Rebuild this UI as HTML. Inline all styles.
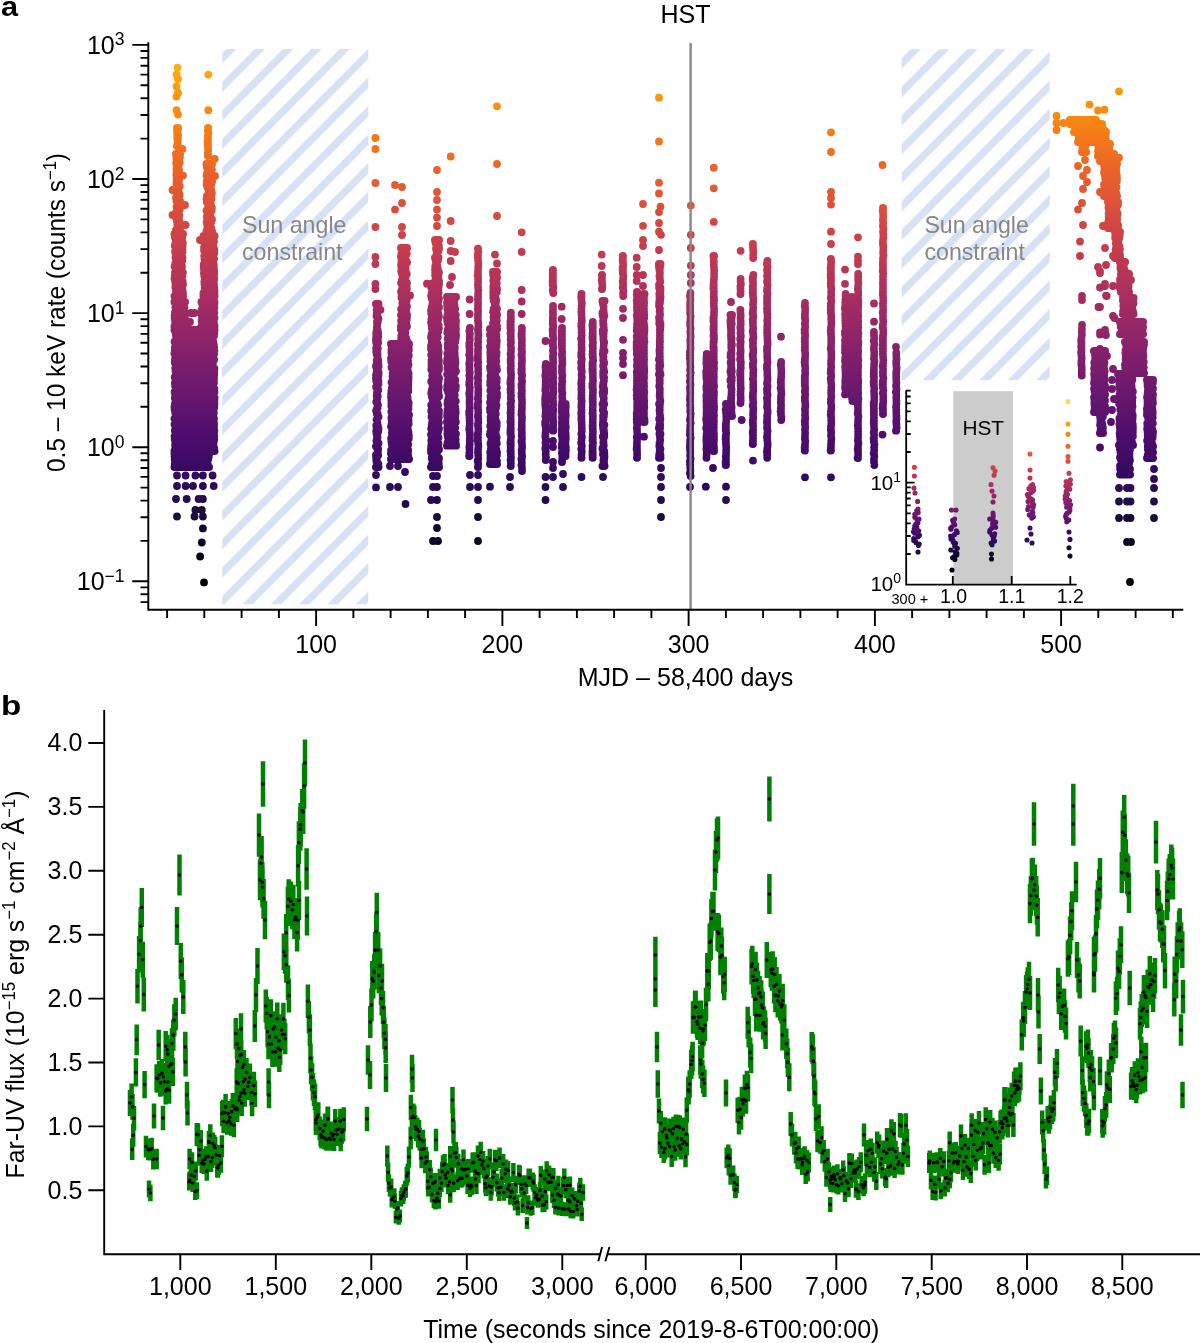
<!DOCTYPE html><html><head><meta charset="utf-8"><style>html,body{margin:0;padding:0;background:#fff;}svg{display:block;will-change:transform;}text{font-family:"Liberation Sans",sans-serif;}</style></head><body><svg width="1200" height="1343" viewBox="0 0 1200 1343"><defs><linearGradient id="g" gradientUnits="userSpaceOnUse" x1="0" y1="581.3" x2="0" y2="-49"><stop offset="0" stop-color="#000004"/><stop offset="0.0417" stop-color="#050417"/><stop offset="0.0833" stop-color="#110a30"/><stop offset="0.125" stop-color="#210c4a"/><stop offset="0.1667" stop-color="#320a5e"/><stop offset="0.2083" stop-color="#450a69"/><stop offset="0.25" stop-color="#57106e"/><stop offset="0.2917" stop-color="#67166e"/><stop offset="0.3333" stop-color="#781c6d"/><stop offset="0.375" stop-color="#8a226a"/><stop offset="0.4167" stop-color="#9a2865"/><stop offset="0.4583" stop-color="#ab2f5e"/><stop offset="0.5" stop-color="#bc3754"/><stop offset="0.5417" stop-color="#ca404a"/><stop offset="0.5833" stop-color="#d84c3e"/><stop offset="0.625" stop-color="#e45a31"/><stop offset="0.6667" stop-color="#ed6925"/><stop offset="0.7083" stop-color="#f57b17"/><stop offset="0.75" stop-color="#f98e09"/><stop offset="0.7917" stop-color="#fca108"/><stop offset="0.8333" stop-color="#fbb61a"/><stop offset="0.875" stop-color="#f9cb35"/><stop offset="0.9167" stop-color="#f4df53"/><stop offset="0.9583" stop-color="#f2f27d"/><stop offset="1" stop-color="#fcffa4"/></linearGradient><linearGradient id="gi" gradientUnits="userSpaceOnUse" x1="0" y1="569.4" x2="0" y2="385.8"><stop offset="0" stop-color="#000004"/><stop offset="0.0417" stop-color="#050417"/><stop offset="0.0833" stop-color="#110a30"/><stop offset="0.125" stop-color="#210c4a"/><stop offset="0.1667" stop-color="#320a5e"/><stop offset="0.2083" stop-color="#450a69"/><stop offset="0.25" stop-color="#57106e"/><stop offset="0.2917" stop-color="#67166e"/><stop offset="0.3333" stop-color="#781c6d"/><stop offset="0.375" stop-color="#8a226a"/><stop offset="0.4167" stop-color="#9a2865"/><stop offset="0.4583" stop-color="#ab2f5e"/><stop offset="0.5" stop-color="#bc3754"/><stop offset="0.5417" stop-color="#ca404a"/><stop offset="0.5833" stop-color="#d84c3e"/><stop offset="0.625" stop-color="#e45a31"/><stop offset="0.6667" stop-color="#ed6925"/><stop offset="0.7083" stop-color="#f57b17"/><stop offset="0.75" stop-color="#f98e09"/><stop offset="0.7917" stop-color="#fca108"/><stop offset="0.8333" stop-color="#fbb61a"/><stop offset="0.875" stop-color="#f9cb35"/><stop offset="0.9167" stop-color="#f4df53"/><stop offset="0.9583" stop-color="#f2f27d"/><stop offset="1" stop-color="#fcffa4"/></linearGradient><pattern id="h1" patternUnits="userSpaceOnUse" x="0" y="0" width="28.33" height="28.33" patternTransform="scale(1 1.00867)"><path d="M30.1 -33.3L-36.6 33.3M58.4 -33.3L-8.2 33.3M86.8 -33.3L20.1 33.3M115.1 -33.3L48.4 33.3" stroke="#d8e0f3" stroke-width="7.28"/></pattern><pattern id="h2" patternUnits="userSpaceOnUse" x="0" y="0" width="28.33" height="28.33" patternTransform="scale(1 1.00867)"><path d="M6.4 -33.3L-60.3 33.3M34.7 -33.3L-31.9 33.3M63.1 -33.3L-3.6 33.3M91.4 -33.3L24.7 33.3" stroke="#d8e0f3" stroke-width="7.28"/></pattern></defs><rect x="222.3" y="49" width="146" height="555.3" fill="url(#h1)"/><rect x="901.7" y="49.2" width="148" height="331" fill="url(#h2)"/><g fill="#878787" font-size="23.2"><text x="242" y="232.7">Sun angle</text><text x="242" y="260">constraint</text><text x="924.4" y="232.7">Sun angle</text><text x="924.4" y="260.3">constraint</text></g><path d="M176.9 127.9H178.1M177.1 130.5H177.8M177.1 133.1H177.5M177.2 135.7H178.1M177.3 138.3H177.9M177.8 140.9h0M177.5 143.5H177.6M176.9 146.1H178.1M175.9 153.9H180.1M176.2 156.8H180M176.5 159.8H179.4M176.2 162.7H179.7M176.6 165.6H178.2M176.5 168.6H178.8M176.6 171.5H179.3M176.3 174.4H180M176.6 177.3H179.8M176.4 180.3H179M176.5 183.2H178.8M176.8 186.1H179.8M176.4 189.1H178.5M176 192H178.7M178.1 194.9H179.7M176 197.9H179.2M176.4 200.8H180M177.5 203.7H179.2M176.6 206.7H179.1M177.5 209.6H179.7M176 212.5H178.7M176.6 215.4H179.4M176.4 218.4H178.7M177 221.3H179.5M177.3 224.2H177.9M177.5 227.2H179.8M175.9 230.1H180.1M174.4 233.9H183.1M174.8 236.9H182.3M175.6 239.8H182M175.6 242.8H182.9M174.7 245.7H182.6M176.2 248.7H182.4M175 251.7H182.5M176.1 254.6H181.7M175.5 257.6H182.5M176.6 260.6H182.4M175.3 263.5H181.1M174.6 266.5H182M175.8 269.4H181.3M175 272.4H182.9M174.8 275.4H182.4M174.5 278.3H181.8M175.1 281.3H182.6M175.5 284.3H183.1M175.4 287.2H182.1M176 290.2H182.6M175.9 293.1H183M174.4 296.1H183.1M174.4 301.9H185.1M175.8 304.6H183.7M175.3 307.3H184.4M175.6 310H184.2M174.8 312.7H184.9M174.6 315.3H184.5M174.6 318H184.8M175 320.7H185.1M175.2 323.4H184.5M174.4 326.1H185.1M207.9 127.9H208.1M207.9 130.7H208M208.4 133.5h0M207.7 136.4H208M207.8 139.2H208M207.6 142H208M207.7 144.8H208M208 147.6h0M208.2 150.5h0M207.7 153.3H208M207.9 156.1H208.1M206.4 163.9H212.1M206.7 166.8H210.1M208.5 169.7H211.9M207.1 172.7H210.2M206.5 175.6H211.3M207.4 178.5H212M206.7 181.4H212.1M206.6 184.4H211.3M207.4 187.3H209.5M208.8 190.2H211.3M209.1 193.1H211.9M206.9 196H211.5M206.5 199H211.4M206.8 201.9H210.6M208.1 204.8H210.9M208 207.7H211.9M206.5 210.6H211.7M207.7 213.6H210.1M206.8 216.5H210.3M207.1 219.4H212M206.6 222.3H211.1M207.3 225.3H209.3M207.3 228.2H211.4M206.4 231.1H212.1M203.4 235.9H214.6M204.8 238.8H212.7M203.6 241.6H214M204.8 244.5H211.9M204 247.4H213.7M204 250.2H214.4M206.3 253.1H214.3M204.2 256H213.5M204.5 258.8H214.1M204.8 261.7H213.1M203.6 264.6H213.8M203.6 267.4H213.8M204.1 270.3H214.2M203.9 273.2H214.3M204.3 276H214M204.8 278.9H214.2M204.3 281.8H213.9M204.5 284.6H214M204.7 287.5H214.3M204.6 290.4H214.5M203.4 293.2H214.5M203.4 296.1H214.6M201.4 301.9H214.6M202.3 304.6H214.3M202.8 307.3H214.4M201.5 310H214.1M202.2 312.7H214.3M201.7 315.3H212.7M202.8 318H214.5M201.6 320.7H212.2M202.8 323.4H214.1M201.4 326.1H214.6M174.4 329.9H214.6M175.6 332.9H214.3M176 335.8H214M176.3 338.8H212.8M174.5 341.7H213.2M176.4 344.7H213.9M174.8 347.6H214.2M174.8 350.6H214.4M174.4 353.5H214.2M175.3 356.5H212.9M174.9 359.5H214.2M174.7 362.4H213M175.8 365.4H212.8M175.2 368.3H214.4M175.5 371.3H214.3M177.7 374.2H214.3M174.7 377.2H214M175.6 380.2H214M174.8 383.1H214M175.1 386.1H213M175.8 389H214.4M174.6 392H214.5M175.2 394.9H213.3M174.8 397.9H214.6M176.3 400.8H214.4M174.9 403.8H214.5M174.4 406.8H214.3M174.6 409.7H213.7M175.2 412.7H213.8M176.1 415.6H213.5M174.4 418.6H214M175.6 421.5H213.9M174.5 424.5H214.1M176 427.5H214M174.8 430.4H214.4M175.8 433.4H214M174.5 436.3H214.2M174.7 439.3H214.3M175.2 442.2H213.7M175.1 445.2H213.4M175.2 448.1H214.2M174.4 451.1H214.6M174.4 453.9H209.1M174.6 456.5H208.8M174.7 459.2H208.2M175 461.8H207.4M174.7 464.5H207.8M174.4 467.1H209.1M375.9 303.9H378.6M377.7 306.9H378.4M376.6 309.8H378.4M376.9 312.8H377.2M376.4 315.8H377.5M378 318.7H378.5M376.9 321.7H377.8M377.1 324.7H377.2M376.8 327.6H377.1M376.6 330.6H377.8M376.1 333.6H378.3M376.2 336.5H378.3M375.9 339.5H377.8M376.1 342.5H378.2M377.4 345.4h0M376.1 348.4H377.8M376.2 351.4H377.4M376.6 354.3H377.6M377.6 357.3h0M376.7 360.3H378.4M376.8 363.2H378.4M375.9 366.2H378.6M376.8 369.2H377.8M376.6 372.1H378.6M376 375.1H378.6M375.9 378.1H378.1M376.2 381H378.4M376.8 384H378.5M376.1 387H377.1M377.7 390H378.3M376.9 392.9H377.1M376.7 395.9H377.8M377 398.9H377.2M376.2 401.8H377M377.9 404.8H378M377.1 407.8H377.6M376.1 410.7H376.6M376.8 413.7H377.6M378 416.7H378.5M376.6 419.6H376.7M377.4 422.6h0M376.2 425.6H377.9M376.5 428.5H378.5M376.2 431.5H378.2M376.6 434.5H377.4M377 437.4H377.5M376.4 440.4H377.4M377.9 443.4H378.6M375.9 446.3H377.3M377.5 449.3H378.2M377.5 452.3H377.9M375.9 455.2H378.2M376.1 458.2H376.8M376.4 461.2H376.9M377.2 464.1H378.4M375.9 467.1H378.6M400.9 247.9H407.1M402.1 250.8H406M401.4 253.7H406.8M400.9 256.6H405.3M401.4 259.6H405.8M401.3 262.5H407.1M401.1 265.4H405.5M401.5 268.3H405.6M401.2 271.2H405.8M402.1 274.1H406.8M402.6 277H405.5M401.9 279.9H404.2M401.1 282.9H407M402.9 285.8H406.6M402.1 288.7H406.9M401 291.6H406.4M401.6 294.5H406.8M401.4 297.4H406.8M403.6 300.3H406.7M402.3 303.2H405.6M403.2 306.2H407M401.1 309.1H406.3M401.9 312H406.3M401 314.9H407.1M402.1 317.8H407M401.1 320.7H406.5M401.4 323.6H406.3M400.9 326.5H407M400.9 329.5H405M402.7 332.4H405.4M401.4 335.3H404.8M401.2 338.2H406.1M400.9 341.1H407.1M390.9 343.9H409.1M391.7 346.9H408.7M391.4 349.8H408.9M391.4 352.8H408.3M391.7 355.7H408.8M391 358.7H407.8M391.3 361.6H408.1M393.1 364.6H408.5M391.5 367.5H407.7M393.1 370.5H407.7M392.6 373.4H408.6M392.6 376.4H408.6M392.7 379.3H408.5M391.5 382.3H408.4M393.3 385.3H408.3M391.8 388.2H408.2M391.4 391.2H408.3M391.1 394.1H406.1M391 397.1H407.5M391.3 400H407.8M391.4 403H408.7M391.3 405.9H408.5M392 408.9H408.4M391.3 411.8H406.7M392.1 414.8H409.1M391.4 417.7H408.5M391.7 420.7H408.6M391.6 423.7H408.7M391 426.6H407.7M392.3 429.6H407.9M391.9 432.5H408.5M392 435.5H408.9M391.1 438.4H408.8M391.4 441.4H406.3M391.8 444.3H408.2M392.4 447.3H407.5M391.1 450.2H408.2M390.9 453.2H408M393.5 456.1H408.2M390.9 459.1H409.1M434.9 239.9H439.1M435.5 242.8H436.8M436.3 245.8H438.9M436 248.7H439.1M436.7 251.7H438.2M436.7 254.6H436.8M434.9 257.6H438.6M435.7 260.5H438M436 263.4H436.7M435.2 266.4H437.5M435 269.3H437.9M435.2 272.3H439M435.1 275.2H438.3M436.3 278.2H438.3M434.9 281.1H439.1M430.9 283.9H439.1M431.1 286.9H438.6M432.1 289.8H438.5M431.8 292.8H438.6M431.1 295.7H437.6M431.8 298.7H439M433.6 301.6H438.4M432.3 304.6H437.3M431.7 307.5H439M431 310.5H436.3M431.2 313.4H438.2M432.2 316.4H438.9M431.4 319.4H438.1M431 322.3H437.5M431.6 325.3H438.7M431.9 328.2H438.9M432.4 331.2H438.3M431.5 334.1H437.2M431 337.1H437.8M431.7 340H436.3M431.7 343H437.2M431 346H438.3M431 348.9H438.2M432.1 351.9H438.7M431.2 354.8H438.4M432.3 357.8H438.3M431.5 360.7H438.9M431.5 363.7H438.6M431.5 366.6H439M431.3 369.6H439M432.7 372.5H437.6M432.2 375.5H437.9M433.4 378.5H439.1M431.2 381.4H438.5M432.6 384.4H438.4M432.5 387.3H438.8M431.7 390.3H438.4M431.2 393.2H438.5M431.8 396.2H439.1M432.5 399.1H436.9M432.9 402.1H437.1M431.2 405H438.1M431.8 408H437.3M431.2 411H439M431.9 413.9H438.9M431.5 416.9H438.8M432.4 419.8H437.3M432 422.8H438.9M431.6 425.7H437.4M431.2 428.7H439M433.2 431.6H438.2M431 434.6H437.3M431.7 437.6H438.5M431.3 440.5H436.4M431.5 443.5H438.5M431.1 446.4H438.2M430.9 449.4H439M431 452.3H436.7M432.7 455.3H437.1M431.7 458.2H439M433.6 461.2H438.7M431.9 464.1H438.8M430.9 467.1H439.1M446.9 296.9H456.1M447.7 299.9H454.3M447 302.9H454.1M447.1 305.8H454.6M447.4 308.8H455.2M448.1 311.8H454.6M447.5 314.8H455.8M446.9 317.7H455.3M447.2 320.7H456M447.8 323.7H455.8M449.2 326.7H455.8M447.8 329.6H456M447.3 332.6H455.9M448.6 335.6H456.1M447.7 338.6H455.8M448.2 341.5H455.3M447.7 344.5H454.5M447.8 347.5H454.8M448.4 350.5H454.6M447.3 353.4H454.7M448.2 356.4H454.8M447.2 359.4H455.3M446.9 362.4H455.5M448 365.3H455.1M447.4 368.3H455.1M448.2 371.3H456M447.1 374.3H454.1M448.8 377.3H453.3M447.9 380.2H455.4M447.8 383.2H454.2M447.2 386.2H455.9M447.1 389.2H455.6M448 392.1H453.4M449.1 395.1H454.8M448.4 398.1H454.5M447.7 401.1H455.8M447.4 404H453.5M448.1 407H455.2M447.5 410H455.6M447.3 413H455.7M447.1 415.9H455.3M448.2 418.9H455.2M446.9 421.9H455.9M447.7 424.9H454.6M447.3 427.8H455.2M447.5 430.8H454.2M447.3 433.8H456M447.8 436.8H455.4M448.4 439.7H455.6M447.5 442.7H455.7M446.9 445.7H456.1M469.9 327.9h0M469.4 330.9H469.5M469.9 333.9h0M469.7 336.8h0M469.8 339.8h0M469.4 342.8H469.5M469.2 345.8H469.5M469.6 348.8h0M469.6 351.8h0M469.2 354.7H469.5M469.8 357.7h0M469.7 360.7h0M469.2 363.7H469.5M469.5 366.7h0M469.4 369.6H469.5M469.8 372.6h0M469.3 375.6H469.5M469.8 378.6h0M469.4 381.6H469.5M469.2 384.5H469.5M469.8 387.5h0M469.7 390.5h0M469.2 393.5H469.5M469.6 396.5h0M469.6 399.5h0M469.5 402.4h0M469.6 405.4h0M469.7 408.4h0M469.2 411.4H469.5M469.2 414.4H469.5M469.5 417.3h0M469.6 420.3h0M469.7 423.3h0M469.5 426.3h0M469.2 429.3H469.5M469.7 432.2h0M469.9 435.2h0M469.8 438.2h0M469.8 441.2h0M469.7 444.2h0M469.3 447.2H469.5M469.5 450.1h0M469.3 453.1H469.5M469.1 456.1H469.5M477.9 248.6H478.1M478.3 251.6h0M477.7 254.6H478M477.9 257.6H478M478.1 260.6h0M478.4 263.6h0M478.2 266.6h0M478.1 269.6h0M478 272.5h0M477.6 275.5H478M478.1 278.5h0M478.1 281.5h0M477.9 284.5H478M478.1 287.5h0M478.3 290.5h0M478.1 293.5h0M478 296.5H478.1M477.9 299.5H478M478.1 302.5h0M478 305.5h0M477.8 308.5H478M478.1 311.5h0M477.9 314.4H478M477.9 317.4h0M477.9 320.4H478M478.3 323.4h0M478.3 326.4h0M477.9 329.4H478M478.2 332.4h0M478.4 335.4h0M478.1 338.4h0M478.3 341.4h0M477.8 344.4H478M478.2 347.4h0M477.9 350.4H478M478 353.4h0M477.8 356.4H478M477.6 359.3H478M478.2 362.3h0M477.8 365.3H478M478.2 368.3h0M478.1 371.3h0M478.3 374.3h0M477.8 377.3H478M478.2 380.3h0M477.9 383.3H478M478.1 386.3h0M478.4 389.3h0M478.2 392.3h0M478.2 395.3h0M477.8 398.3H478M478.3 401.3h0M477.7 404.2H478M477.7 407.2H478M478.2 410.2h0M478.2 413.2h0M477.9 416.2H478M478.3 419.2h0M478.3 422.2h0M477.8 425.2H478M478.3 428.2h0M478.3 431.2h0M477.7 434.2H478M477.8 437.2H478M477.6 440.2H478M478.2 443.2h0M478.4 446.1h0M478.1 449.1h0M477.9 452.1H478M478.2 455.1h0M478.3 458.1h0M477.7 461.1H478M478.2 464.1h0M477.9 467.1H478.1M492.9 271.9H497.1M493.1 274.8H496.4M493.9 277.6H497.1M493.3 280.5H496.4M493.7 283.3H496.8M493.3 286.2H495.4M493.4 289H497.1M493.2 291.9H496.8M493.3 294.7H495.4M493.3 297.6H495.6M493.6 300.4H496.2M494.7 303.3H495.7M494.9 306.1H495.9M493.6 309H497M493.1 311.8H494.7M494 314.7H497.1M493.5 317.5H496.6M494.2 320.4H496.8M493 323.2H495.3M492.9 326.1H497.1M489.9 328.9H497.1M490.8 331.8H495.7M489.9 334.8H496.4M491.7 337.7H496.4M490.4 340.7H496.8M492.1 343.6H496.6M490 346.5H496.4M490.4 349.5H495.5M490.3 352.4H496.6M490.4 355.4H496.4M490.5 358.3H495.9M490.4 361.2H496.3M491 364.2H494.3M490 367.1H496.6M490.4 370H497M492.3 373H495M490.4 375.9H495.4M490.6 378.9H496.8M490.2 381.8H496.7M490.2 384.7H496M491 387.7H496.9M490.3 390.6H495.5M491.5 393.6H497.1M490.5 396.5H497M490.8 399.4H496.4M490 402.4H494.7M491.2 405.3H496.5M489.9 408.3H495.9M490.1 411.2H495.4M491.3 414.1H495.8M490.6 417.1H495.1M490.6 420H495.7M490.8 423H496.8M490.2 425.9H496.7M491.6 428.8H496.2M490.3 431.8H495.6M489.9 434.7H495.9M491.4 437.6H496.7M491.3 440.6H496.2M490.5 443.5H496.8M491 446.5H495.5M490.9 449.4H496.3M490.2 452.3H497.1M490.5 455.3H496.9M490.4 458.2H494.5M490.4 461.2H497M489.9 464.1H497.1M510.9 312.6h0M510.7 315.6H510.8M510.9 318.6h0M510.4 321.5H510.8M510.4 324.5H510.8M510.4 327.4H510.8M510.9 330.4h0M510.5 333.3H510.8M510.8 336.3h0M510.7 339.2H510.8M511 342.2h0M510.7 345.1h0M511.1 348.1h0M511 351h0M510.6 354H510.8M511 356.9h0M510.6 359.9H510.8M510.7 362.8H510.8M510.9 365.8h0M510.6 368.7H510.8M510.9 371.7h0M511.1 374.6h0M511 377.6h0M510.5 380.5H510.8M510.4 383.5H510.8M510.9 386.4h0M510.5 389.4H510.8M510.6 392.3H510.8M511 395.3h0M510.8 398.2h0M511.1 401.2h0M510.5 404.1H510.8M510.9 407.1h0M510.8 410h0M510.5 413H510.8M510.7 415.9h0M510.7 418.9h0M510.4 421.8H510.8M510.8 424.8h0M510.6 427.7H510.8M510.4 430.7H510.8M510.4 433.6H510.8M511.1 436.6h0M510.8 439.5h0M510.4 442.5H510.8M510.6 445.4H510.8M510.7 448.4h0M510.5 451.3H510.8M510.8 454.3h0M511 457.2h0M510.6 460.2H510.8M510.9 463.1h0M510.6 466.1H510.8M521.9 327.9h0M521.9 330.9h0M521.4 333.9H521.8M521.5 336.8H521.8M521.9 339.8h0M521.8 342.8h0M521.9 345.8h0M521.5 348.8H521.8M522 351.8h0M521.4 354.8H521.8M521.9 357.7h0M522 360.7h0M521.6 363.7H521.8M521.7 366.7H521.8M521.4 369.7H521.8M521.4 372.6H521.8M522.1 375.6h0M521.7 378.6H521.8M522.1 381.6h0M521.4 384.6H521.8M521.5 387.6H521.8M521.9 390.6h0M521.4 393.5H521.8M521.4 396.5H521.8M521.9 399.5h0M522 402.5h0M521.9 405.5h0M521.9 408.4h0M521.6 411.4H521.8M521.4 414.4H521.8M522 417.4h0M521.9 420.4h0M521.7 423.4h0M521.8 426.4h0M521.5 429.3H521.8M521.9 432.3h0M521.7 435.3H521.8M522 438.3h0M521.4 441.3H521.8M522 444.2h0M522.1 447.2h0M521.6 450.2H521.8M521.7 453.2H521.8M522.1 456.2h0M521.4 459.2H521.8M521.8 462.1h0M521.4 465.1H521.8M522 468.1h0M522 471.1h0M545.8 363.9h0M545.5 366.8h0M545.7 369.7h0M545.6 372.6h0M545.3 375.6H545.5M545.7 378.5h0M545.7 381.4h0M545.6 384.3h0M545.5 387.2h0M545.3 390.1H545.5M545.7 393.1h0M545.4 396H545.5M545.1 398.9H545.5M545.2 401.8H545.5M545.2 404.7H545.5M545.5 407.6h0M545.9 410.5h0M545.6 413.5h0M545.4 416.4H545.5M545.8 419.3h0M545.1 422.2H545.5M545.2 425.1H545.5M545.8 428h0M545.8 430.9h0M545.4 433.9H545.5M545.3 436.8H545.5M545.9 439.7h0M545.5 442.6h0M545.9 445.5h0M545.3 448.4H545.5M545.8 451.4h0M545.7 454.3h0M545.9 457.2h0M545.7 460.1h0M552.8 269.9H553M552.7 272.8H553M552.7 275.7H553M552.8 278.6H553M552.6 281.5H553M552.6 284.4H553M553.3 287.3h0M552.7 290.2H553M553.3 293.1h0M553 305.9h0M553 308.9h0M552.8 311.8H553M553 314.8h0M552.8 317.8H553M552.8 320.8H553M552.7 323.7H553M553.3 326.7h0M552.6 329.7H553M552.8 332.6H553M552.8 335.6H553M553.4 338.6h0M552.7 341.6H553M552.6 344.5H553M553.4 347.5h0M552.9 350.5H553M553.3 353.4h0M552.9 356.4H553M553.1 359.4h0M553.2 362.4h0M552.7 365.3H553M553 368.3h0M553.1 371.3h0M553.1 374.2h0M553.2 377.2h0M552.6 380.2H553M553.3 383.2h0M552.6 386.1H553M553.3 389.1h0M553.3 392.1h0M552.9 395H553M553 398h0M552.7 401H553M553.3 404h0M552.9 406.9H553M553.3 409.9h0M553 412.9h0M552.6 415.8H553M552.7 418.8H553M553.3 421.8h0M553.2 424.8h0M553.1 427.7h0M553.2 430.7h0M561.9 327.9H562.1M561.7 330.9H562M561.8 333.9H562M561.7 336.8H562M561.7 339.8H562M561.7 342.8H562M561.9 345.8H562M562 348.8h0M562.2 351.8h0M561.9 354.7H562M562.2 357.7h0M562.3 360.7h0M562.4 363.7h0M561.9 366.7H562M562 369.7h0M562 372.6h0M562.4 375.6h0M562.1 378.6h0M562.3 381.6h0M561.8 384.6H562M562 387.5h0M561.8 390.5H562M562.4 393.5h0M562.1 396.5h0M562.4 399.5h0M562 402.5h0M561.7 405.4H562M561.9 408.4H562M561.7 411.4H562M562.1 414.4h0M561.8 417.4H562M562 420.3h0M561.8 423.3H562M562 426.3h0M561.6 429.3H562M561.8 432.3H562M561.8 435.3H562M562.2 438.2h0M562.3 441.2h0M561.9 444.2H562M561.7 447.2H562M562.2 450.2h0M561.9 453.2H562M562.3 456.1h0M562.2 459.1h0M561.9 462.1H562.1M565.7 403.9h0M565.8 406.8h0M565.6 409.7h0M565.6 412.6h0M565.8 415.5h0M565.5 418.4h0M565.3 421.3H565.5M565.4 424.2H565.5M565.8 427.1h0M565.2 430H565.5M565.6 432.9h0M565.8 435.8h0M565.8 438.7h0M565.4 441.6H565.5M565.1 444.5H565.5M565.8 447.4h0M565.9 450.3h0M565.6 453.2h0M565.6 456.1h0M581.4 293.9H581.6M581.2 296.9H581.5M581.5 299.9h0M581.9 302.8h0M581.6 305.8h0M581.5 308.8h0M581.4 311.8H581.5M581.5 314.8h0M581.7 317.7h0M581.8 320.7h0M581.3 323.7H581.5M581.3 326.7H581.5M581.6 329.7h0M581.6 332.6h0M581.7 335.6h0M581.1 338.6H581.5M581.6 341.6h0M581.5 344.6h0M581.6 347.5h0M581.6 350.5h0M581.2 353.5H581.5M581.2 356.5H581.5M581.8 359.5h0M581.1 362.4H581.5M581.4 365.4H581.5M581.2 368.4H581.5M581.8 371.4h0M581.5 374.4h0M581.8 377.3h0M581.5 380.3h0M581.1 383.3H581.5M581.4 386.3H581.5M581.3 389.3H581.5M581.5 392.2h0M581.4 395.2H581.5M581.3 398.2H581.5M581.7 401.2h0M581.4 404.2H581.5M581.3 407.1H581.5M581.5 410.1h0M581.2 413.1H581.5M581.4 416.1H581.5M581.3 419.1H581.5M581.6 422h0M581.7 425h0M581.8 428h0M581.8 431h0M581.4 434H581.5M581.9 436.9h0M581.5 439.9h0M581.2 442.9H581.5M581.8 445.9h0M581.3 448.9H581.5M581.8 451.8h0M581.5 454.8h0M581.4 457.8H581.6M592.8 321.9h0M592.4 324.9H592.8M592.6 327.8H592.8M592.8 330.8h0M592.6 333.7H592.8M592.5 336.7H592.8M592.6 339.6H592.8M593 342.6h0M592.5 345.5H592.8M592.9 348.5h0M592.7 351.4H592.8M592.5 354.4H592.8M592.9 357.4h0M593.1 360.3h0M592.4 363.3H592.8M592.5 366.2H592.8M592.4 369.2H592.8M592.5 372.1H592.8M592.9 375.1h0M592.9 378h0M593 381h0M592.4 383.9H592.8M592.4 386.9H592.8M593 389.9h0M592.9 392.8h0M592.7 395.8H592.8M592.6 398.7H592.8M592.7 401.7H592.8M592.9 404.6h0M592.7 407.6h0M592.7 410.5H592.8M592.5 413.5H592.8M592.9 416.4h0M592.8 419.4h0M592.8 422.3h0M592.6 425.3H592.8M592.6 428.3H592.8M592.9 431.2h0M592.8 434.2h0M592.6 437.1H592.8M592.5 440.1H592.8M593 443h0M592.5 446H592.8M592.7 448.9h0M592.4 451.9H592.8M592.5 454.8H592.8M592.5 457.8H592.8M601.9 274.9H602.1M602 277.7h0M601.7 280.6H602M602.2 283.4h0M602.4 286.3h0M601.9 289.1H602.1M602.4 300.9H604.6M602.9 303.8H603.3M603.6 306.8h0M603.6 309.8h0M602.4 312.7H603.8M602.6 315.6H604.4M603.3 318.6H603.5M603 321.5H603.2M603.2 324.5H603.5M603.7 327.4h0M602.7 330.4H604M602.8 333.3H603.7M603.3 336.3H603.6M603.3 339.2H603.5M603.8 342.2H604.2M603.7 345.1h0M603.5 348.1h0M603 351.1H604.6M602.8 354H603.2M603.2 356.9H603.5M603.2 359.9H603.5M603.5 362.8H604.3M603.1 365.8H603.5M603.7 368.8h0M603.2 371.7H604.2M603.1 374.6H603.5M603.3 377.6H604.1M603.9 380.6H604M603.2 383.5H603.5M602.7 386.4H603.5M603.3 389.4H604.2M602.6 392.4H604.2M602.9 395.3H603.5M603.8 398.2h0M603.6 401.2h0M602.5 404.1H604.2M603.1 407.1H603.3M602.8 410.1H603.2M603.6 413H604.2M603 416H603.9M603.1 418.9H603.5M603 421.9h0M602.8 424.8H604.4M603 427.8H603.7M603.4 430.7H604M603.8 433.6H604.3M602.8 436.6H604.3M603.5 439.6h0M603.3 442.5H603.5M603.5 445.5H603.8M602.4 448.4H603.3M603.1 451.4H604.3M602.9 454.3H604.4M603.9 457.2H604.5M603.4 460.2H604.1M603.5 463.1H604.1M602.4 466.1H604.6M622.7 255.9H623M622.7 258.8H623M622.7 261.6H623M623.2 264.5h0M622.6 267.4H623M622.6 270.3H623M622.8 273.1H623M623.3 276h0M623.1 278.9h0M622.7 281.7H623M623.2 284.6h0M622.7 287.5H623M623.4 290.4h0M623.1 293.2h0M623.2 296.1h0M636.9 291.9H637.1M636.8 294.9H637M637.1 297.8h0M636.7 300.8H637M637 303.8h0M636.9 306.7H637M637 309.7h0M637.4 312.6h0M636.7 315.6H637M637.2 318.6h0M637.3 321.5h0M637 324.5h0M636.9 327.4H637M636.7 330.4H637M637.3 333.4h0M636.7 336.3H637M637.1 339.3h0M636.6 342.3H637M636.6 345.2H637M636.6 348.2H637M636.8 351.1H637M636.8 354.1H637M637.4 357.1h0M637 360h0M637.2 363h0M636.9 366H637M637.3 368.9h0M636.8 371.9H637M637 374.9h0M637 377.8h0M636.9 380.8H637M637 383.7h0M636.8 386.7H637M636.6 389.7H637M637 392.6h0M636.7 395.6H637M636.8 398.6H637M637.3 401.5h0M637.1 404.5h0M637.1 407.4h0M637.2 410.4h0M636.7 413.4H637M636.8 416.3H637M636.7 419.3H637M636.8 422.2H637M637.1 425.2h0M636.8 428.2H637M637.1 431.1h0M637.3 434.1h0M636.8 437.1H637M637.1 440h0M636.9 443H637M636.9 445.9H637M636.6 448.9H637M637.1 451.9h0M637.1 454.8h0M636.9 457.8H637.1M643.4 293.9H644.6M643.6 296.9H644M643.9 299.9H644M643.9 302.8H644.2M643.7 305.8H644M644 308.8h0M644.1 311.8h0M644.2 314.8h0M644.2 317.8h0M643.6 320.7H643.7M644 323.7h0M644.4 326.7h0M643.5 329.7H644.5M644.2 332.7h0M643.8 335.6H644M643.4 338.6H644.1M644 341.6H644.5M644 344.6h0M643.9 347.6H644M643.8 350.5H644M643.7 353.5H644M643.8 356.5H644M644.1 359.5h0M644 362.5h0M643.7 365.5H644M643.4 368.4H644.2M644.3 371.4h0M643.9 374.4H644M644.1 377.4h0M643.5 380.4H643.8M643.8 383.3H644M644.1 386.3h0M643.8 389.3H644M644 392.3H644.3M643.8 395.3H644M643.8 398.2H644M644.3 401.2h0M644.1 404.2h0M644.3 407.2h0M643.9 410.2H644M643.7 413.2H644M643.8 416.1H644M643.9 419.1H644.5M643.4 422.1H644.6M658.9 263.9H660.6M658.9 266.9H660.1M659.4 269.9H659.8M659.9 272.8h0M659.4 275.8H659.8M659.9 278.8h0M660.2 281.8H660.3M659 284.8H659.4M659.1 287.8H660.5M659.9 290.7H660.5M659.3 293.7H660.2M659.5 296.7H660.6M659.5 299.7H660.3M659.1 302.7H660M659 305.7H659.3M659.7 308.6H659.9M659.6 311.6H659.8M660.1 314.6h0M659 317.6H659.7M659.3 320.6H659.8M659.2 323.6H660.5M660 326.5H660.5M659.9 329.5H660.2M659.9 332.5h0M659.9 335.5h0M659.9 338.5h0M659.7 341.5H660M659.7 344.4H659.8M659.7 347.4H659.9M659.4 350.4H659.8M659.6 353.4H659.8M659.7 356.4H659.9M658.9 359.4H659.9M660 362.3h0M659.2 365.3H660.4M659.2 368.3H659.7M659.6 371.3H659.8M658.9 374.3H660.6M659.8 377.3h0M659.5 380.2H659.8M659.7 383.2H659.8M659.2 386.2H659.5M659.9 389.2h0M659.8 392.2h0M659.6 395.2H659.8M659.9 398.1h0M660.1 401.1H660.4M659 404.1H660M659.8 407.1h0M659.5 410.1H659.8M659.7 413.1h0M660.1 416h0M659.1 419H660.4M660 422h0M659.4 425H660.2M658.9 428H660.1M659.8 431h0M659.4 433.9H660.5M659.9 436.9h0M660.1 439.9H660.2M659.5 442.9H659.8M659.3 445.9H659.6M659.7 448.9H660.5M659.6 451.8H659.9M659.1 454.8H660.5M658.9 457.8H660.6M690.4 292.9h0M690 295.9H690.2M690.4 298.8h0M690.2 301.8H690.2M690.1 304.7H690.2M690.1 307.7H690.2M690.2 310.6H690.2M690.1 313.6H690.2M690.6 316.5h0M690.4 319.5h0M690.1 322.4H690.2M690.2 325.4H690.2M690.6 328.4h0M690.3 331.3h0M690.5 334.3h0M690.6 337.2h0M690.3 340.2h0M690.4 343.1h0M690.4 346.1h0M690.5 349h0M689.9 352H690.2M689.9 355H690.2M689.9 357.9H690.2M690.2 360.9h0M690.2 363.8H690.2M690.5 366.8h0M690.1 369.7H690.2M690.6 372.7h0M690.1 375.6H690.2M690.3 378.6h0M689.9 381.5H690.2M690.5 384.5h0M690 387.5H690.2M690.1 390.4H690.2M690.3 393.4h0M690 396.3H690.2M689.9 399.3H690.2M690.2 402.2H690.2M690.1 405.2H690.2M690.4 408.1h0M690.2 411.1h0M690.6 414h0M690.4 417h0M689.9 420H690.2M690.6 422.9h0M690.2 425.9h0M690.1 428.8H690.2M690 431.8H690.2M689.9 434.7H690.2M690.6 437.7h0M690.1 440.6H690.2M690 443.6H690.2M689.9 446.6H690.2M690 449.5H690.2M690.3 452.5h0M690.1 455.4H690.2M690.5 458.4h0M689.9 461.3H690.2M690 464.3H690.2M690.2 467.2h0M690.4 470.2h0M689.9 473.1H690.2M690.6 476.1h0M713.4 255.9H714.1M713.7 258.9h0M713.8 261.8H713.9M713.8 264.8h0M713.9 267.7H714M714.1 270.7h0M714.1 273.6h0M714.1 276.6h0M713.9 279.6h0M713.7 282.5h0M713.5 285.5H713.8M713.4 288.4H713.8M713.9 291.4H713.9M713.8 294.3h0M713.7 297.3H714M713.9 300.3H714.1M713.8 303.2h0M713.9 306.2h0M714.1 309.1h0M714 312.1h0M714 315.1h0M713.4 318H713.8M713.4 321H713.8M713.8 323.9h0M713.5 326.9H713.8M713.5 329.8H713.8M713.8 332.8h0M713.5 335.8H714M714 338.7h0M713.5 341.7H713.8M713.4 344.6H713.5M713.4 347.6H713.8M713.6 350.5H713.8M713.8 353.5H713.8M713.8 356.5h0M713.4 359.4H713.8M714.1 362.4h0M713.9 365.3h0M714 368.3h0M713.4 371.2H713.8M713.7 374.2H713.8M713.9 377.2h0M713.6 380.1H713.8M713.5 383.1H713.8M714.1 386h0M713.7 389h0M714 391.9h0M713.9 394.9h0M713.4 397.9H713.8M713.5 400.8H713.8M713.9 403.8h0M714.1 406.7h0M714 409.7h0M713.7 412.7H713.8M714 415.6h0M713.8 418.6h0M713.9 421.5h0M713.6 424.5H713.8M713.5 427.4H713.8M713.7 430.4h0M713.9 433.4h0M714 436.3h0M714 439.3h0M713.8 442.2h0M713.6 445.2H713.8M714 448.1h0M713.4 451.1H714.1M706.7 353.9h0M706.5 356.9h0M706.4 359.8H706.5M706.3 362.8H706.5M706.7 365.8h0M706.7 368.7h0M706.1 371.7H706.5M706.3 374.7H706.5M706.3 377.6H706.5M706.8 380.6h0M706.9 383.6h0M706.3 386.6H706.5M706.5 389.5h0M706.9 392.5h0M706.3 395.5H706.5M706.5 398.4h0M706.4 401.4H706.5M706.6 404.4h0M706.5 407.3h0M706.6 410.3h0M706.5 413.3h0M706.5 416.2h0M706.1 419.2H706.5M706.5 422.2h0M706.8 425.1h0M706.1 428.1H706.5M706.9 431.1h0M706.6 434.1h0M706.4 437H706.5M706.3 440H706.5M706.5 443h0M706.6 445.9h0M706.4 448.9H706.5M706.7 451.9h0M706.6 454.8h0M706.4 457.8H706.5M730.4 314.9H732.1M730.9 317.9H731.6M730.4 320.9H731.4M730.5 323.8H731.8M730.7 326.8H731.1M731 329.8H731.2M731 332.8H731.2M730.9 335.7H731M731.1 338.7H731.6M731.3 341.7H731.4M731.2 344.7H731.9M731.2 347.6h0M731.5 350.6h0M730.7 353.6H731.5M730.5 356.6H730.9M731.5 359.5h0M730.6 362.5H731.1M731.1 365.5H731.2M731 368.5H731.5M730.4 371.5H731.8M731.1 374.4H731.2M731.2 377.4H731.8M730.4 380.4H731.7M731.4 383.4h0M730.9 386.3H731.2M731.6 389.3h0M731.5 392.3h0M731.4 395.3h0M731 398.2H731.2M730.8 401.2H731.1M731.3 404.2h0M731.6 407.2h0M731.1 410.1H731.4M731.4 413.1H731.6M730.4 416.1H732.1M725.9 403.9H726M726.3 406.8h0M725.7 409.7H726M726 412.6h0M726.2 415.6h0M726.3 418.5h0M726.2 421.4h0M725.7 424.3H726M725.8 427.2H726M725.7 430.1H726M726.2 433h0M725.7 436H726M725.6 438.9H726M725.8 441.8H726M726 444.7h0M726.3 447.6h0M726.1 450.5h0M726.1 453.4h0M725.8 456.4H726M726 459.3h0M725.6 462.2H726M725.7 465.1H726M740.6 278.9h0M740.6 281.4h0M740.9 284h0M740.4 286.5H740.5M740.5 289h0M740.6 291.6h0M740.4 294.1H740.5M740.3 309.9H740.5M740.5 312.8h0M740.7 315.7h0M740.5 318.6h0M740.7 321.5h0M740.7 324.5h0M740.3 327.4H740.5M740.7 330.3h0M740.4 333.2H740.5M740.9 336.1h0M740.2 339H740.5M740.7 341.9h0M740.2 344.9H740.5M740.5 347.8h0M740.7 350.7h0M740.2 353.6H740.5M740.5 356.5h0M740.1 359.4H740.5M740.9 362.3h0M740.7 365.2h0M740.8 368.1h0M740.3 371.1H740.5M740.1 374H740.5M740.5 376.9h0M740.5 379.8h0M740.6 382.7h0M740.6 385.6h0M740.8 388.5h0M740.6 391.5h0M740.5 394.4h0M740.7 397.3h0M740.7 400.2h0M740.4 403.1H740.5M752.8 243.9H753M753 246.7h0M753.1 249.6h0M753.4 252.4h0M753.2 255.3h0M753.2 258.1h0M753.4 274.9h0M752.6 277.9H753M752.8 280.8H753M753.1 283.8h0M752.7 286.8H753M752.7 289.7H753M752.7 292.7H753M753 295.7h0M753.3 298.6h0M753.3 301.6h0M753 304.6h0M753.2 307.6h0M753 310.5h0M752.6 313.5H753M753.3 316.5h0M752.7 319.4H753M752.9 322.4H753M753 325.4h0M753.2 328.3h0M752.7 331.3H753M753.2 334.3h0M753.4 337.2h0M752.7 340.2H753M753.1 343.2h0M752.9 346.1H753M753.3 349.1h0M753.3 352.1h0M752.6 355H753M752.9 358H753M753.4 361h0M752.8 364H753M752.9 366.9H753M753.4 369.9h0M753.2 372.9h0M753.2 375.8h0M752.9 378.8H753M753.3 381.8h0M753.2 384.7h0M753.2 387.7h0M753.3 390.7h0M752.9 393.6H753M752.7 396.6H753M753 399.6h0M753.3 402.5h0M752.7 405.5H753M753.3 408.5h0M753.2 411.4h0M753 414.4h0M753.2 417.4h0M752.8 420.4H753M752.8 423.3H753M753.1 426.3h0M753.1 429.3h0M752.7 432.2H753M752.9 435.2H753M753 438.2h0M752.8 441.1H753M752.7 444.1H753M767.4 260.9h0M766.9 263.9H767.2M767.5 266.9h0M767 269.8H767.2M767.4 272.8h0M767 275.8H767.2M767.4 278.8h0M767 281.8H767.2M767.6 284.8h0M767.3 287.8h0M766.9 290.7H767.2M767.6 293.7h0M767 296.7H767.2M767.1 299.7H767.2M767 302.7H767.2M767.2 305.6H767.2M767 308.6H767.2M767.1 311.6H767.2M767.5 314.6h0M767.5 317.6h0M767.2 320.6h0M767.4 323.5h0M767.2 326.5h0M767.2 329.5h0M767.1 332.5H767.2M767.3 335.5h0M767.4 338.5h0M767.6 341.4h0M767.6 344.4h0M767 347.4H767.2M766.9 350.4H767.2M767.2 353.4h0M767.2 356.4h0M767.4 359.4h0M767.6 362.3h0M766.9 365.3H767.2M766.9 368.3H767.2M767.3 371.3h0M767.3 374.3h0M767.5 377.2h0M767.5 380.2h0M767 383.2H767.2M767.6 386.2h0M766.9 389.2H767.2M767 392.2H767.2M767.6 395.1h0M766.9 398.1H767.2M767.2 401.1h0M767.2 404.1h0M767 407.1H767.2M767.6 410.1h0M767.6 413.1h0M767.1 416H767.2M767.1 419H767.2M766.9 422H767.2M767.2 425h0M767 428H767.2M767.6 430.9h0M767.3 433.9h0M766.9 436.9H767.2M767.3 439.9h0M767.6 442.9h0M767.6 445.9h0M767.2 448.9H767.2M766.9 451.8H767.2M767.1 454.8H767.2M767.2 457.8H767.2M781.2 361.9h0M780.7 364.8H781M781.1 367.7h0M781.4 370.6h0M781.3 373.5h0M781.2 376.4h0M780.9 379.4H781M780.7 382.3H781M781 385.2h0M780.6 388.1H781M781.2 391h0M781.4 393.9h0M780.9 396.8H781M780.9 399.7H781M780.8 402.6H781M781.1 405.6h0M780.8 408.5H781M780.6 411.4H781M780.9 414.3H781M781.4 417.2h0M781.2 420.1h0M805 302.9h0M804.7 305.9H805M805.2 308.8h0M805.1 311.8h0M804.8 314.7H805M804.8 317.7H805M805.3 320.6h0M804.8 323.6H805M805.2 326.5h0M804.6 329.5H805M804.6 332.4H805M805.2 335.4h0M804.7 338.3H805M804.7 341.3H805M804.9 344.2H805M804.8 347.2H805M804.7 350.1H805M805.2 353.1h0M805.2 356h0M804.8 359H805M804.6 361.9H805M804.9 364.9H805M805.2 367.8h0M805.1 370.8h0M805.2 373.7h0M804.7 376.7H805M804.7 379.7H805M804.7 382.6H805M804.8 385.6H805M805.2 388.5h0M804.8 391.5H805M805.2 394.4h0M804.8 397.4H805M804.8 400.3H805M805.2 403.3h0M805.4 406.2h0M804.9 409.2H805M805.1 412.1h0M805 415.1h0M805.3 418h0M804.7 421H805M804.9 423.9H805M805.2 426.9h0M804.9 429.8H805M805.1 432.8h0M805 435.7h0M804.9 438.7H805M805.3 441.6h0M805 444.6h0M804.6 447.5H805M804.7 450.5H805M830.8 258.9H831M831.2 261.9h0M830.9 264.9H831M830.6 267.9H831M830.7 270.9H831M830.7 273.9H831M830.7 276.9H831M830.9 279.9H831M830.8 282.8H831M830.8 285.8H831M831.3 288.8h0M831.1 291.8h0M831.2 294.8h0M830.8 297.8H831M831.3 300.8h0M830.8 303.8H831M830.7 306.8H831M830.7 309.8H831M830.8 312.8H831M831.3 315.8h0M831.2 318.8h0M831.4 321.8h0M831.3 324.8h0M830.9 327.8H831M830.7 330.8H831M830.9 333.7H831M831.2 336.7h0M831.2 339.7h0M831.2 342.7h0M831.1 345.7h0M830.7 348.7H831M831.3 351.7h0M831.3 354.7h0M831.4 357.7h0M831.1 360.7h0M831 363.7h0M831.2 366.7h0M830.8 369.7H831M830.7 372.7H831M831.2 375.7h0M830.7 378.6H831M831 381.6h0M831.4 384.6h0M831.3 387.6h0M831.2 390.6h0M831.1 393.6h0M831.3 396.6h0M830.9 399.6H831M830.8 402.6H831M831.4 405.6h0M831.3 408.6h0M830.9 411.6H831M830.7 414.6H831M831.2 417.6h0M831.2 420.6h0M831.3 423.6h0M830.9 426.6H831M830.8 429.5H831M831.2 432.5h0M831 435.5h0M831.4 438.5h0M831.2 441.5h0M831 444.5h0M830.9 447.5H831M830.6 450.5H831M845.6 293.9h0M845.6 296.8h0M845.4 299.7h0M845.3 302.6h0M845.2 305.6H845.2M844.9 308.5H845.2M845.4 311.4h0M845.1 314.3H845.2M845.3 317.2h0M845.3 320.1h0M845.4 323.1h0M845.5 326h0M845.6 328.9h0M844.9 331.8H845.2M845 334.7H845.2M845.6 337.6h0M845 340.5H845.2M845.2 343.5H845.2M845 346.4H845.2M845 349.3H845.2M845 352.2H845.2M845.6 355.1h0M845.2 358h0M845 360.9H845.2M845.4 363.9h0M845.1 366.8H845.2M845.4 369.7h0M845.5 372.6h0M845.5 375.5h0M845.4 378.4h0M845.2 381.4H845.2M845.4 384.3h0M845 387.2H845.2M845.5 390.1h0M852.1 296.9H852.2M852.2 299.9H852.2M852.6 302.9h0M852.1 305.8H852.2M852.1 308.8H852.2M852.3 311.8h0M852.2 314.8h0M852.3 317.7h0M852.1 320.7H852.2M852.6 323.7h0M852.1 326.7H852.2M852.4 329.6h0M851.9 332.6H852.2M852 335.6H852.2M852.4 338.6h0M852.6 341.6h0M851.9 344.5H852.2M852 347.5H852.2M852.2 350.5H852.2M852.5 353.5h0M851.9 356.4H852.2M851.9 359.4H852.2M851.9 362.4H852.2M852.3 365.4h0M852.1 368.4H852.2M852.2 371.3H852.2M852.6 374.3h0M852 377.3H852.2M852.1 380.3H852.2M852.3 383.2h0M852.2 386.2h0M852.2 389.2h0M852.1 392.2H852.2M852.5 395.1h0M852 398.1H852.2M852.4 401.1h0M858.2 273.9h0M858.2 276.9h0M858.1 279.8h0M858.4 282.8h0M858.1 285.8h0M857.8 288.8H858M858.2 291.7h0M858.2 294.7h0M857.8 297.7H858M858.3 300.6h0M858.3 303.6h0M858.2 306.6h0M858.1 309.6h0M857.9 312.5H858M858.2 315.5h0M857.7 318.5H858M858.2 321.4h0M858.1 324.4h0M858.2 327.4h0M857.8 330.3H858M858.4 333.3h0M858.1 336.3h0M858 339.3h0M858.4 342.2h0M858.2 345.2h0M857.6 348.2H858M858.2 351.1h0M857.9 354.1H858M857.6 357.1H858M858.3 360.1h0M858 363h0M858.2 366h0M857.7 369H858M857.7 371.9H858M857.9 374.9H858M858 377.9h0M858.3 380.9h0M858.1 383.8h0M858.1 386.8h0M858 389.8h0M858.2 392.7h0M857.8 395.7H858M858.4 398.7h0M858.1 401.7h0M857.7 404.6H858M858 407.6h0M858 410.6h0M857.7 413.5H858M858.4 416.5h0M858.1 419.5h0M858 422.4h0M857.8 425.4H858M858.1 428.4h0M858.1 431.4h0M858.1 434.3h0M858.1 437.3h0M857.8 440.3H858M858.4 443.2h0M858 446.2h0M857.7 449.2H858M858.1 452.2h0M858.1 455.1h0M857.6 458.1H858M873.9 331.9H874M873.9 334.9H874M874.3 337.8h0M873.7 340.8H874M874.3 343.7h0M874 346.7h0M873.9 349.7H874M874.3 352.6h0M874.2 355.6h0M873.9 358.5H874M874.4 361.5h0M874.1 364.5h0M874 367.4h0M873.8 370.4H874M873.7 373.3H874M873.7 376.3H874M874 379.3h0M873.6 382.2H874M873.8 385.2H874M874.3 388.1h0M874 391.1h0M874.2 394.1h0M874.3 397h0M874.3 400h0M873.7 402.9H874M873.7 405.9H874M873.8 408.9H874M873.8 411.8H874M873.9 414.8H874M873.9 417.7H874M873.7 420.7H874M873.7 423.7H874M874 426.6h0M874.2 429.6h0M873.7 432.5H874M874.1 435.5h0M873.6 438.5H874M873.8 441.4H874M874.4 444.4h0M874.1 447.3h0M874.2 450.3h0M873.7 453.3H874M874.3 456.2h0M874 459.2h0M874 462.1h0M874.3 465.1h0M882.9 207.9H883.1M882.7 210.9H883M883.1 213.9h0M883.2 216.9h0M882.9 219.9H883M883.2 222.8h0M882.9 225.8H883M883.4 228.8h0M883 231.8H883.1M883.3 234.8h0M883.3 237.8h0M882.9 240.8H883M882.9 243.8H883M883.3 246.7h0M883.3 249.7h0M883.1 252.7h0M883.4 255.7h0M883 258.7h0M882.9 261.7H883M882.8 264.7H883M883 267.7h0M882.7 270.7H883M883.2 273.6h0M883 276.6h0M883 279.6h0M882.9 282.6H883M883 285.6h0M883 288.6h0M882.9 291.6H883M882.8 294.6H883M883.1 297.6h0M883.2 300.5h0M882.9 303.5H883M883 306.5h0M883.2 309.5h0M882.7 312.5H883M883 315.5h0M883 318.5h0M883.3 321.5h0M882.9 324.4H883M882.7 327.4H883M883.3 330.4h0M883.3 333.4h0M882.8 336.4H883M882.7 339.4H883M882.9 342.4H883M882.6 345.4H883M882.6 348.4H883M882.9 351.3H883M882.8 354.3H883M883.1 357.3h0M883.3 360.3h0M883.1 363.3h0M882.6 366.3H883M883.1 369.3h0M882.8 372.3H883M882.9 375.3H883M883.4 378.2h0M882.8 381.2H883M882.6 384.2H883M882.8 387.2H883M883.4 390.2h0M882.8 393.2H883M883.3 396.2h0M883.2 399.2h0M883.2 402.1h0M882.7 405.1H883M882.6 408.1H883M882.9 411.1H883M882.9 414.1H883.1M896.3 352.9h0M896.3 355.9h0M896.5 358.9h0M896.1 361.9H896.2M896.3 364.9h0M896.6 367.9h0M896.4 370.9h0M896.1 373.8H896.2M896.2 376.8H896.2M896.2 379.8H896.2M896.4 382.8h0M896 385.8H896.2M896.5 388.8h0M895.9 391.8H896.2M896.4 394.8h0M896.2 397.8h0M896.4 400.8h0M896.4 403.8h0M896 406.8H896.2M896.3 409.8h0M896.3 412.7h0M896.4 415.7h0M896.5 418.7h0M896.2 421.7h0M896.5 424.7h0M896.6 427.7h0M895.9 430.7H896.2M1069.9 119.9H1096.1M1072.6 122H1094.9M1069.9 124.1H1096.1M1073.9 123.9H1102.1M1074.5 126.6H1100.9M1076.2 129.4H1101.9M1073.9 132.1H1102.1M1077.9 131.9H1106.1M1078.4 134.4H1105.5M1078.7 137H1105.5M1078.9 139.6H1105.9M1077.9 142.1H1106.1M1081.9 143.9H1086.1M1082.4 146.6H1085.3M1082.3 149.4H1083.7M1081.9 152.1H1086.1M1097.9 143.9H1110.1M1098.2 146.3H1109.2M1099.7 148.8H1109.2M1098 151.2H1109.3M1100 153.7H1108.7M1097.9 156.1H1110.1M1099.9 153.9H1114.1M1100.3 156.3H1112.9M1100.2 158.7H1112.9M1099.9 161.1H1114.1M1103.9 163.9H1117.1M1104.3 166.8H1116.4M1104.3 169.8H1116.1M1104 172.7H1116.3M1104.9 175.6H1116.8M1105.2 178.5H1117M1105.7 181.5H1116.8M1104 184.4H1114.9M1104.4 187.3H1116.5M1104.9 190.2H1115.6M1104.5 193.2H1116.2M1103.9 196.1H1117.1M1107.9 201.9H1118.1M1109.8 204.8H1118M1108.5 207.7H1116.4M1109.1 210.6H1116.5M1108.6 213.5H1117.6M1108.7 216.5H1117.1M1108.9 219.4H1117.1M1108.1 222.3H1116.9M1109.9 225.2H1118.1M1107.9 228.1H1118.1M1114.9 231.9H1120.1M1115.3 234.8H1119.7M1115.1 237.7H1119.2M1116.2 240.6H1118.6M1115.8 243.5H1118.3M1116.4 246.5H1119.5M1115.6 249.4H1119.9M1115.8 252.3H1119.4M1115.5 255.2H1120.1M1114.9 258.1H1120.1M1119.9 261.9H1125.1M1120.5 264.8H1123.8M1120.4 267.7H1123.9M1121.1 270.6H1124.8M1122 273.5H1125.1M1122.4 276.5H1124.8M1120 279.4H1124.8M1120.1 282.3H1123.7M1120.6 285.2H1124.9M1119.9 288.1H1125.1M1120.9 273.9H1129.1M1122.3 276.5H1128.4M1121.8 279.1H1128.2M1122.3 281.7H1128.5M1121.1 284.3H1128.5M1122.6 286.9H1128.5M1122.6 289.5H1127.9M1120.9 292.1H1129.1M1122.9 297.9H1133.6M1122.9 300.6H1133.1M1123.7 303.3H1133.5M1123.3 306H1132.4M1124.2 308.7H1132.2M1123 311.4H1133.1M1122.9 314.1H1133.6M1119.9 321.9H1143.1M1120.5 324.3H1141.3M1120.7 326.8H1143.1M1121.7 329.2H1142.7M1122.1 331.7H1141.8M1119.9 334.1H1143.1M1124.9 341.9H1144.1M1126.1 344.7H1144M1126.6 347.6H1143.4M1125.5 350.4H1143M1125.4 353.2H1143.1M1125.8 356.1H1143.4M1125.6 358.9H1142.9M1126.3 361.8H1143.8M1124.9 364.6H1142.7M1125.2 367.4H1143.8M1126.4 370.3H1142.4M1124.9 373.1H1144.1M1118.9 373.9H1133.1M1119.6 376.9H1132.1M1119.5 379.8H1132.4M1119.3 382.8H1131.4M1119.3 385.8H1131.6M1119.8 388.7H1131.8M1120.1 391.7H1132.9M1119.6 394.7H1131.8M1119.2 397.6H1132.6M1119.3 400.6H1132.3M1119.1 403.6H1132.2M1120.8 406.5H1132.5M1120.2 409.5H1131.9M1121.2 412.5H1132M1120.6 415.4H1132.8M1119.4 418.4H1132.6M1119.9 421.4H1132.3M1119.4 424.3H1132.8M1119.8 427.3H1133M1120 430.3H1132.9M1119.6 433.2H1132.8M1119.9 436.2H1132.9M1120.2 439.2H1131.4M1120.3 442.1H1132M1118.9 445.1H1133.1M1119.9 448.9H1130.1M1120.4 451.8H1129.6M1121.6 454.6H1129.4M1120 457.5H1129.5M1121 460.3H1130M1122.1 463.2H1129.2M1120 466H1128.7M1120.1 468.9H1130M1122.2 471.7H1129.3M1119.9 474.6H1130.1M1146.9 379.9H1153.1M1147.4 382.8H1152.9M1147.5 385.7H1151.4M1148 388.6H1153M1147.8 391.5H1152.2M1147.5 394.4H1153M1147 397.3H1152.7M1147.5 400.2H1152.7M1147.5 403.1H1153M1147.4 406H1152.1M1146.9 408.9H1152.3M1147.1 411.8H1152.8M1146.9 414.7H1152.6M1148 417.6H1152.7M1148.7 420.4H1151.8M1147.2 423.3H1152.9M1147.4 426.2H1151.7M1147.1 429.1H1152.2M1147.6 432H1153.1M1147.7 434.9H1152.8M1147.7 437.8H1152.6M1147.1 440.7H1151.5M1148.6 443.6H1152.1M1147.7 446.5H1153.1M1147.9 449.4H1152.2M1148.7 452.3H1153.1M1147.7 455.2H1152.3M1146.9 458.1H1153.1M1081.9 328.9h0M1081.8 331.8h0M1081.9 334.7h0M1081.5 337.7h0M1081.2 340.6H1081.5M1081.3 343.5H1081.5M1081.2 346.4H1081.5M1081.5 349.3h0M1081.1 352.2H1081.5M1081.4 355.2H1081.5M1081.7 358.1h0M1081.4 361H1081.5M1081.3 363.9H1081.5M1081.7 366.8h0M1081.8 369.8h0M1081.7 372.7h0M1081.8 375.6h0M1093.9 350.9H1105.1M1094.8 353.8H1105M1095.2 356.7H1103.7M1095.1 359.6H1103.3M1094.2 362.6H1104.5M1094.7 365.5H1103.9M1094.1 368.4H1104.1M1094.4 371.3H1104.7M1094.1 374.2H1104.3M1094.5 377.1H1104.3M1094.4 380H1104.3M1094 383H1104M1095.1 385.9H1105M1094 388.8H1105M1094.6 391.7H1104.3M1096.7 394.6H1105.1M1094 397.5H1104.3M1094.4 400.4H1105M1094.3 403.4H1103.7M1094.7 406.3H1105.1M1094.6 409.2H1102.3M1093.9 412.1H1105.1M1099.9 413.9H1103.1M1100 416.6H1102.9M1100.4 419.4H1101.2M1100.4 422.1H1101.8M1100.1 424.9H1102.5M1100.7 427.6H1102.9M1100.5 430.4H1102.7M1099.9 433.1H1103.1M177.6 67.6h0M176.5 74.6h0M178 78.9h0M176.5 86.4h0M178 92.9h0M176.5 96.6h0M176.5 110.2h0M178 114.5h0M182.4 149h0M183 175.6h0M185 205h0M185.6 225h0M172.5 190h0M172.5 215h0M208.3 74.6h0M208.3 110.2h0M214.8 158.8h0M215 176h0M200 240h0M191 313h0M194.4 313h0M190 322h0M195 330h0M193 336h0M177 475.5h0M185.6 475.5h0M195.4 475.5h0M202.9 475.5h0M212.6 475.5h0M177 486h0M185.6 486h0M193 486h0M202.9 486h0M213.7 486h0M176 499h0M186.7 499h0M198.6 499h0M202.9 499h0M195.4 510h0M201.8 510h0M177 516.5h0M194.5 516.5h0M202.9 516.5h0M202.9 528.4h0M201.8 542.5h0M200.1 556.5h0M204 582.4h0M375.4 138h0M375.4 149h0M375.4 183h0M375.4 227h0M375.4 257h0M375.4 264h0M375.4 284h0M375.4 289h0M380.5 309.8h0M376 475h0M376 487.4h0M395 185h0M402 187h0M402 203h0M395 209.6h0M402 227h0M402 235h0M410 295.5h0M390 466h0M398 466h0M405 472h0M390 487h0M398 487h0M405.5 504h0M437 170h0M437 192h0M437 200h0M437 209.6h0M437 217.6h0M437 226h0M427 283.7h0M433 476h0M437 476h0M433 487h0M437 487h0M431 500h0M437 500h0M437 517h0M437 528h0M433 541h0M438 541h0M450.7 156.5h0M450.7 221h0M450.7 241h0M450.7 251h0M455 252h0M450.7 261h0M452 277h0M450 285h0M469.6 299.5h0M469.6 314h0M470 475h0M470 487h0M478 475h0M478 487h0M478 500h0M478 517h0M478 541h0M497 106.3h0M497 164h0M497 216h0M495 254.6h0M497 263.5h0M490 486.7h0M510 477h0M510 487h0M521.7 232.3h0M521.7 252h0M521.7 290h0M521.7 301.5h0M521.7 314h0M545.5 341h0M545.5 477h0M545.5 487h0M545.5 500h0M553 441h0M553 447h0M553 462h0M553 468h0M553 477h0M561.7 306.7h0M561.7 319h0M563 474h0M563 487h0M581.5 477h0M601.7 254.6h0M601.7 266h0M603 477h0M623 308.8h0M623 318h0M623 339.8h0M623 353h0M623 358h0M623 364h0M623 375.2h0M636.7 257.7h0M636.7 267h0M636.7 275h0M636.7 281h0M643 204h0M643 225.8h0M643 240h0M643 246h0M643 275h0M643 286h0M644 436.7h0M659 97.7h0M659 141.5h0M659 182.7h0M659 193.5h0M660.5 206.7h0M659 212h0M659 223h0M659 231.7h0M661 234.8h0M659 250h0M661 468h0M661 477h0M661 487h0M661 500h0M661 517h0M690.8 205.6h0M690.8 234.8h0M690.8 248h0M690.8 265.6h0M690.8 275h0M690.8 283h0M690 487h0M713.8 167.7h0M713.8 188.3h0M713.8 221.9h0M705.8 486.7h0M713 468h0M731 302h0M726 486.7h0M726 500h0M741.7 420h0M740.6 250.8h0M753 460.6h0M781 336.7h0M805 477.3h0M831 132.3h0M831 152h0M831 192h0M831 198h0M831 204.6h0M831 231.7h0M831 244h0M831 477.3h0M845 269.6h0M845 283.8h0M845 394.4h0M858 237.3h0M858 256.7h0M858 261h0M858 264h0M874 303.5h0M874 321.7h0M882.5 165h0M882.5 434.6h0M896 347h0M1056.5 116h0M1056.5 123h0M1056.5 130h0M1063.5 123h0M1119 91.3h0M1089.5 104.6h0M1098 110.5h0M1104.5 109.7h0M1104 130h0M1119 157.6h0M1083 150h0M1085 160h0M1078 166h0M1087 170h0M1083 176h0M1087 182h0M1083 189h0M1082 203h0M1078 209.6h0M1083 225h0M1080 241.6h0M1080 256h0M1082 296h0M1082 300h0M1082 325h0M1100 271.5h0M1100 287.5h0M1105 284h0M1106.7 296h0M1098.5 307h0M1100 334.5h0M1105 331.6h0M1100 349h0M1107 356h0M1100 192h0M1103 226h0M1105 248h0M1113 256h0M1106 265h0M1098 267h0M1100 273h0M1105 286h0M1113 286h0M1106 295.6h0M1100 307h0M1113 316h0M1131 280h0M1114.5 318h0M1105 330h0M1100 332.5h0M1106 335h0M1100 447.5h0M1119 488h0M1127 488h0M1130.5 488h0M1154 488h0M1119 501.5h0M1127 501.5h0M1130.5 501.5h0M1154 501.5h0M1119 518h0M1127 518h0M1130.5 518h0M1154 518h0M1113 369h0M1118 374h0M1112 380h0M1112 389h0M1114 399h0M1112 410h0M1111 422h0M1127 542h0M1131 542h0M1130 582h0M1154 469h0M1154 479h0" fill="none" stroke="url(#g)" stroke-width="7.8" stroke-linecap="round"/><path d="M690.6 42.9V610" stroke="#888" stroke-width="2.4"/><text x="660.5" y="22.7" font-size="25">HST</text><path d="M148.3 42.3V610.7M147.5 609.8H1183.3M132.3 581.3H148M140.5 540.9H148M140.5 517.3H148M140.5 500.6H148M140.5 487.6H148M140.5 476.9H148M140.5 468H148M140.5 460.2H148M140.5 453.3H148M132.3 447.2H148M140.5 406.8H148M140.5 383.2H148M140.5 366.5H148M140.5 353.5H148M140.5 342.8H148M140.5 333.9H148M140.5 326.1H148M140.5 319.2H148M132.3 313.1H148M140.5 272.7H148M140.5 249.1H148M140.5 232.4H148M140.5 219.4H148M140.5 208.7H148M140.5 199.8H148M140.5 192H148M140.5 185.1H148M132.3 179H148M140.5 138.6H148M140.5 115H148M140.5 98.3H148M140.5 85.3H148M140.5 74.6H148M140.5 65.7H148M140.5 57.9H148M140.5 51H148M132.3 44.9H148M140.5 602.1H148M140.5 594.3H148M140.5 587.4H148M167.1 610V618M204.3 610V618M241.6 610V618M278.9 610V618M316.1 610V626M353.4 610V618M390.6 610V618M427.9 610V618M465.1 610V618M502.4 610V626M539.6 610V618M576.9 610V618M614.1 610V618M651.4 610V618M688.6 610V626M725.9 610V618M763.1 610V618M800.4 610V618M837.6 610V618M874.9 610V626M912.1 610V618M949.4 610V618M986.6 610V618M1023.9 610V618M1061.1 610V626M1098.3 610V618M1135.6 610V618M1172.8 610V618" stroke="#000" stroke-width="1.9" fill="none"/><g font-size="25" text-anchor="middle"><text x="316.1" y="652.6">100</text><text x="502.4" y="652.6">200</text><text x="688.6" y="652.6">300</text><text x="874.9" y="652.6">400</text><text x="1061.1" y="652.6">500</text></g><text x="124.5" y="590" font-size="25" text-anchor="end">10<tspan font-size="17.5" dy="-8.2">−1</tspan></text><text x="124.5" y="455.9" font-size="25" text-anchor="end">10<tspan font-size="17.5" dy="-8.2">0</tspan></text><text x="124.5" y="321.8" font-size="25" text-anchor="end">10<tspan font-size="17.5" dy="-8.2">1</tspan></text><text x="124.5" y="187.7" font-size="25" text-anchor="end">10<tspan font-size="17.5" dy="-8.2">2</tspan></text><text x="124.5" y="53.6" font-size="25" text-anchor="end">10<tspan font-size="17.5" dy="-8.2">3</tspan></text><text transform="translate(64.6 312.5) rotate(-90)" font-size="25.8" text-anchor="middle" textLength="319" lengthAdjust="spacingAndGlyphs">0.5 – 10 keV rate (counts s<tspan font-size="17.5" dy="-9">−1</tspan><tspan dy="9">)</tspan></text><text x="685.5" y="686.4" font-size="25" text-anchor="middle">MJD – 58,400 days</text><text x="1" y="15.5" font-size="28.5" font-weight="bold" textLength="17.1" lengthAdjust="spacingAndGlyphs">a</text><rect x="901.2" y="381" width="186" height="226" fill="#fff"/><rect x="953.3" y="391.2" width="59.7" height="193.5" fill="#cccccc"/><text x="983.3" y="435.2" font-size="20.8" text-anchor="middle">HST</text><path d="M914.4 467.2h0M914.4 476h0M914 488h0M915 493h0M917.6 501.4h0M918 509h0M916.7 510.7h0M918.2 512.6h0M914.8 514.2h0M915.1 516.2h0M914.8 517.3h0M919 519.1h0M917.1 520.7h0M917.9 522.7h0M915.7 524.2h0M914.7 526h0M916.8 527.1h0M914.2 529h0M918.7 530.7h0M913.5 531.8h0M914.8 533.3h0M919.5 535.3h0M918.1 536.8h0M913.7 538.5h0M913.7 540.5h0M915.7 541.6h0M915.9 542.6h0M919.2 544.1h0M918.4 545.5h0M918 552h0M951.5 510h0M956 510h0M954.6 519h0M952.6 520.3h0M953.3 521.8h0M954 523.5h0M954.7 524.8h0M951.9 526.8h0M950.6 528.2h0M950.9 529.3h0M956.4 530.8h0M957.3 532.5h0M954.6 534.4h0M950.6 536h0M952.3 537.4h0M951 539.1h0M953.1 540.6h0M953.3 542.2h0M955.6 543.3h0M954.7 545.1h0M954.7 546.3h0M957.4 548.2h0M950.8 550h0M955.2 551.9h0M956.9 553.2h0M956.8 555h0M954.5 556.3h0M952.6 557.7h0M954.8 559.5h0M952 570h0M993 467.7h0M995 471h0M994 475.2h0M991 484.5h0M992 491h0M994 496h0M993 502h0M993 513h0M993.2 515h0M993.2 516.9h0M989.7 519h0M993.1 520.4h0M995.8 522.2h0M992.6 523.9h0M993 525.5h0M995.7 527.3h0M991.6 528.3h0M989.9 530.2h0M989.7 532h0M994.7 533.7h0M992 535h0M994.1 536.2h0M993.4 537.8h0M993.3 539.1h0M994.6 541.1h0M991.1 543.1h0M992 544.7h0M991.5 554h0M991.5 559h0M1030 454h0M1030 470h0M1030 478h0M1032.6 484.5h0M1030.9 485.7h0M1033.5 487.5h0M1028.9 488.5h0M1033.6 490.1h0M1032.9 491.3h0M1030.8 492.7h0M1027.4 494.6h0M1028.1 496h0M1029.1 497.2h0M1031.1 498.9h0M1032.6 500h0M1028 501.6h0M1032.7 503.4h0M1033.6 504.7h0M1028.6 506.5h0M1033.1 507.5h0M1027.7 509.4h0M1032.4 511.2h0M1032.8 512.9h0M1029.3 514.9h0M1033.4 516.8h0M1031.8 518.1h0M1030 528h0M1031 534h0M1027 540h0M1032 543h0M1068 401.6h0M1068 424h0M1068 434.2h0M1068 446.3h0M1068 456.5h0M1068 461.2h0M1069 473.3h0M1070.4 479.8h0M1066.1 481.5h0M1068.1 482.8h0M1070.4 484.1h0M1065.8 486.1h0M1069 487.9h0M1069.8 489.2h0M1066.3 491.1h0M1066.1 492.2h0M1067.5 494.2h0M1065.2 496.1h0M1066.6 497.3h0M1065.2 499.3h0M1069.6 500.5h0M1069 501.7h0M1065.9 502.9h0M1070.6 504.7h0M1067.4 506.2h0M1066.6 507.3h0M1069.9 508.6h0M1069.9 510.5h0M1069.2 512.1h0M1066.9 513.4h0M1066.1 514.7h0M1065.6 516.6h0M1066.1 518.1h0M1068.8 520.1h0M1066.8 521.7h0M1069 532h0M1070 539.4h0M1069 547.7h0M1070 556h0" fill="none" stroke="url(#gi)" stroke-width="5.1" stroke-linecap="round"/><path d="M906.2 390.3V585.5M905.4 584.7H1076.7M906 482.7H914.7M906 584.7H914.7M906 554H910.7M906 536H910.7M906 523.3H910.7M906 513.4H910.7M906 505.3H910.7M906 498.5H910.7M906 492.6H910.7M906 487.4H910.7M906 452H910.7M906 434H910.7M906 421.3H910.7M906 411.4H910.7M906 403.3H910.7M906 396.5H910.7M906 390.6H910.7M952.8 584.7V576M1011.7 584.7V576M1070.3 584.7V576" stroke="#000" stroke-width="1.8" fill="none"/><g font-size="19.5" text-anchor="middle"><text x="953.5" y="602.5">1.0</text><text x="1011.7" y="602.5">1.1</text><text x="1070.3" y="602.5">1.2</text></g><text x="891.5" y="604" font-size="14.5">300 +</text><text x="901" y="490.2" font-size="20.5" text-anchor="end">10<tspan font-size="14" dy="-7.8">1</tspan></text><text x="901" y="591.2" font-size="20.5" text-anchor="end">10<tspan font-size="14" dy="-7.8">0</tspan></text><text x="1" y="715.3" font-size="28.5" font-weight="bold" textLength="20.3" lengthAdjust="spacingAndGlyphs">b</text><path d="M130 1090.1V1116M131.6 1083.6V1110M132.5 1094.1V1119.7M134 1106V1130.6M133.2 1123.7V1146.7M132.2 1138.5V1160M135.9 1058.2V1086.6M136.7 1024.4V1055.2M137.5 969V1003.5M139.1 935.9V972.4M140.4 921.9V959.2M140.7 907.2V945.3M141.8 887.9V927.1M142.8 941.7V977.8M143.8 977.6V1011.5M144.6 1070.9V1098.3M146 1135.7V1157.5M148.3 1138.6V1160.2M150 1139V1160.6M151.7 1137.8V1159.4M153.3 1148.9V1169.5M149 1180.5V1197.5M150.4 1184.8V1201.2M154 1103.6V1128.4M156.7 1148.7V1169.3M156.6 1064.3V1092.2M157.7 1064.8V1092.7M159.2 1060.9V1089.1M160.3 1069.1V1096.7M162 1059.1V1087.4M163.4 1063V1091.1M164.2 1068V1095.7M165.7 1077.7V1104.6M167.2 1075.2V1102.3M168 1068.2V1095.8M169.1 1076.8V1103.8M158.7 1029.8V1060.2M163 1105.7V1130.3M165.7 1031V1061.3M167.2 1034.7V1064.8M167.9 1039.1V1068.9M169 1052.1V1080.9M170.6 1049.8V1078.9M171.7 1049.3V1078.4M172.9 1057.7V1086.1M172 1028.2V1058.8M173.3 1019.5V1050.7M174.3 1004.2V1036.4M175.7 997.7V1030.3M177 906.9V945.1M179.5 854.5V895.5M180.8 943V979M181.8 957.4V992.6M183.3 980.1V1013.9M185.3 1031.8V1062.2M185.6 1047.4V1076.6M187 1081.7V1108.3M187.5 1100.5V1125.5M189.6 1148.7V1169.3M189.2 1172.7V1190.6M189.8 1171.4V1189.5M191 1165.8V1184.5M192 1152.2V1172.4M192.7 1174.1V1191.9M194.2 1167.1V1185.7M195.3 1183.3V1199.9M195.8 1161.4V1180.6M197 1182.2V1199M196.8 1123V1146M198 1123.2V1146.2M199.2 1144.8V1165.7M199.8 1138.9V1160.4M200.8 1130.1V1152.5M201.7 1153.2V1173.3M203 1150.1V1170.5M203.9 1153.9V1173.9M205.1 1149V1169.5M205.9 1146.2V1167M206.8 1161.5V1180.7M208.1 1146.2V1167M209.1 1131.3V1153.5M208.9 1130.8V1153.1M210.3 1124.3V1147.2M211 1151.7V1171.9M212.2 1147.4V1168.1M212.8 1132.4V1154.6M214.2 1134.9V1156.8M215.2 1136.9V1158.7M216.2 1144.4V1165.4M217.3 1157.9V1177.4M217.9 1158.3V1177.8M218.6 1155.2V1175.1M219.6 1145.1V1166M220.9 1152.6V1172.8M221.9 1135.3V1157.2M222.2 1101V1126M223.2 1099.7V1124.8M223.6 1109.1V1133.3M224.8 1100.2V1125.3M225.6 1094.1V1119.7M227.1 1110.5V1134.7M228.1 1101V1126M229.2 1108.6V1133M229.8 1105V1129.6M231.1 1111.6V1135.7M231.8 1099.1V1124.2M232.9 1092.9V1118.6M233.9 1113.3V1137.2M235.1 1096.4V1121.8M236.2 1095.2V1120.7M237.2 1096.8V1122.1M236.7 1068.2V1095.9M238 1069.6V1097.1M239.3 1087.2V1113.3M239.8 1083.4V1109.8M241.2 1079.6V1106.3M241.8 1090.2V1116.1M243.4 1067.7V1095.4M243.9 1076.3V1103.3M244.8 1080V1106.7M235.8 1017.9V1049.2M237 1028.6V1059.1M237.5 1046.9V1076.1M238.9 1033.3V1063.5M240 1040.7V1070.4M241.2 1039.6V1069.4M242.5 1053.1V1081.9M243.9 1049.9V1078.9M245.2 1065.1V1093M246.5 1058V1086.4M247.9 1072.7V1100M248.8 1068.4V1096M249.8 1063.5V1091.5M251.5 1078.9V1105.7M252.1 1090.4V1116.3M253.9 1071.7V1099M255 1080.4V1107.1M241 1013.2V1044.8M254.8 1010.1V1041.9M256 978.1V1011.9M257.5 948.1V983.9M259 813.6V856.7M260 859.5V900.2M260.9 842.5V884.1M261.6 836V878M262.3 861.9V902.6M262.5 867.2V907.6M263.6 879V918.7M263 761.2V806.8M265 900.8V939.2M265.8 989.4V1022.6M266.8 996.8V1029.5M267.6 1016V1047.4M268.5 1028.7V1059.2M269.4 1021.4V1052.4M270.9 999.3V1031.8M271.3 1028.9V1059.4M272.4 1037V1067M273.2 1013.2V1044.8M274.6 1011.3V1043M275.5 1036.7V1066.7M275.8 1021.5V1052.5M277.3 1002.5V1034.8M278.1 1033V1063.2M278.9 1025.6V1056.3M279.3 1042.4V1071.9M280.2 1034.9V1065M281.6 1014.2V1045.7M282.4 1019V1050.2M283.4 1002.8V1035.1M284.4 1018.8V1050M285.2 1023.3V1054.2M268.6 1068.2V1095.8M269 1081.7V1108.3M283.9 933.5V970.1M285.1 937.5V973.8M286.3 946.9V982.7M288 965.2V999.9M288.9 978.7V1012.5M286.2 914V951.7M287.9 886.8V926M288.7 879.2V918.9M290.8 881.5V921M292.2 890.2V929.3M293.3 884.8V924.2M294.5 900.6V939.1M295.5 898.1V936.7M297.1 913.7V951.5M297.8 901V939.5M299 880.7V920.3M298.1 845.1V886.5M298.9 821.3V864M300.3 807.2V850.7M300.7 802.9V846.5M302.3 788.9V833.2M303.2 789.7V834M304.1 763.3V808.8M305 739.6V786.3M306.6 848.3V889.7M307 896.6V935.4M307.9 984.5V1018M308.9 1001.1V1033.5M309.9 1014.3V1045.9M310.5 1043.4V1072.9M311.1 1055.7V1084.3M312.1 1063.2V1091.2M313 1073.2V1100.4M314 1079.4V1106.1M315 1083.5V1109.9M315.8 1107.2V1131.7M316 1111V1135.1M317.2 1104.8V1129.5M318.3 1102.2V1127.1M319.7 1116.5V1140.2M320.6 1123.5V1146.5M321.5 1125.6V1148.4M322.1 1124.9V1147.8M323.1 1119.6V1143M324.4 1126.8V1149.5M325 1113.4V1137.3M326.5 1128.1V1150.7M327.6 1106.8V1131.3M328 1106.6V1131.1M329.4 1126.9V1149.6M330.3 1128.2V1150.8M331.2 1121.6V1144.8M332.5 1124.5V1147.4M333.3 1122.9V1145.9M334.1 1128.4V1150.9M335.2 1108.9V1133.2M336.1 1118.3V1141.7M337 1122.9V1145.9M338 1117.7V1141.2M339 1117.3V1140.9M340.4 1108.7V1133M340.7 1128.8V1151.3M341.9 1120.4V1143.7M343.1 1118.1V1141.5M343.8 1107.2V1131.7M367 1106.8V1131.2M368 1045.3V1074.7M370 1060.9V1089.1M370.3 1006V1038M371.5 988.3V1021.6M372.3 960.9V995.9M373.2 963.7V998.5M374.2 954.2V989.5M375.1 931.9V968.6M376.2 912.7V950.5M376.8 892.7V931.6M378.2 931.8V968.5M378.8 958.2V993.3M380.1 948.2V983.9M381 970.8V1005.1M382 963.7V998.5M381.7 981.8V1015.4M383 991V1024M383.8 1006.2V1038.3M384.4 1017.7V1049M385.5 1023.9V1054.8M385.7 1032.8V1063M386 1064V1092M387.3 1145.6V1166.4M388.1 1162.6V1181.7M388.9 1174.2V1192M390 1179.4V1196.6M391.2 1178.5V1195.7M391.8 1192V1207.5M393.3 1189V1205M394.3 1188.2V1204.2M394.8 1193.5V1208.8M395.9 1210.8V1223.6M396.9 1201.8V1216M397.7 1200.9V1215.2M398.8 1212.2V1224.8M399.9 1209.4V1222.4M401 1190.7V1206.4M401.9 1187.2V1203.3M403.2 1187.8V1203.9M403.8 1184.3V1200.8M405.2 1181V1198M405.8 1180.4V1197.4M406.8 1166.8V1185.4M407.9 1163.5V1182.5M409 1146.6V1167.4M410.7 1126.7V1149.3M412 1054.7V1083.3M412.5 1064V1092M410.9 1094.8V1120.3M411.9 1105.3V1129.9M413.3 1103.6V1128.4M414.3 1105.2V1129.8M415.4 1115.3V1139M416.1 1117.4V1141M416.8 1117.7V1141.2M417.3 1117.8V1141.3M418.2 1124.8V1147.6M419 1119.9V1143.2M419.7 1127.8V1150.4M421.1 1138.4V1160M421.6 1147.7V1168.3M422.9 1129.7V1152.1M423.8 1138.2V1159.8M425.3 1153.2V1173.3M425.9 1146.7V1167.4M426.8 1151.4V1171.6M427.9 1172.3V1190.3M428.2 1179.4V1196.5M429.3 1178.7V1195.9M429.7 1160V1179.3M430.7 1167.5V1186M432 1186.2V1202.5M433.1 1174.4V1192.1M433.8 1192.7V1208.2M435.2 1173V1190.9M435.6 1194.2V1209.4M436.8 1190.6V1206.3M437.7 1185V1201.5M438.9 1193.3V1208.7M439.8 1168.8V1187.2M436 1128.8V1151.2M439.8 1179.9V1196.9M441.4 1174.4V1192.1M442.2 1161.8V1181M443 1155.2V1175.1M444.6 1154.1V1174.1M445.3 1165.5V1184.3M446 1169V1187.4M447.7 1162.7V1181.8M448.1 1176.9V1194.3M449.6 1173V1190.9M450.2 1186.6V1202.8M452.5 1086.9V1113.1M453 1107.8V1132.2M453.5 1120.4V1143.6M450.2 1145.9V1166.7M451.3 1159.2V1178.6M452.5 1161.1V1180.3M453.7 1174.5V1192.2M454.5 1142.5V1163.6M455.8 1142V1163.2M456.4 1147.1V1167.8M457.6 1171.8V1189.9M458.3 1153.7V1173.7M459.9 1169.1V1187.4M460.3 1169.4V1187.7M461.8 1159.2V1178.7M462.3 1169.2V1187.5M463.5 1149.6V1170M464.3 1160.2V1179.5M465.3 1160V1179.3M466.7 1166.7V1185.3M467.6 1176.6V1194.1M468.3 1159.1V1178.5M470 1179.9V1197M471 1176.5V1194M471.7 1177.8V1195.1M472.7 1152.6V1172.8M473.5 1152.3V1172.4M475 1161.2V1180.4M475.6 1169.9V1188.1M476.4 1176.7V1194.1M476.9 1163.8V1182.7M478 1145.5V1166.4M478.5 1164.3V1183.2M480 1149.6V1170M480.7 1141.8V1163M482.1 1155V1174.9M483.1 1151.1V1171.4M483.8 1159V1178.5M485.2 1174.8V1192.5M485.9 1168.1V1186.6M485.9 1179.2V1196.3M487.2 1167V1185.6M487.9 1155.9V1175.7M489.3 1177.3V1194.7M489.8 1148.7V1169.2M490.8 1184.3V1200.8M491.6 1178.2V1195.5M493 1168.1V1186.6M494 1162.5V1181.6M495 1149.8V1170.3M496.3 1150.6V1170.9M496.7 1173.6V1191.5M498.1 1179.3V1196.4M499.2 1184.5V1201M499.6 1147.6V1168.3M500.8 1178.7V1195.9M501.7 1168.9V1187.3M503.2 1154V1174M504 1184.2V1200.8M505.2 1164.1V1183M506 1159.5V1178.9M507.4 1180V1197.1M508.1 1160.9V1180.2M508.2 1181.1V1198M509.2 1176.4V1193.9M510.3 1188.8V1204.7M511 1184.1V1200.7M512.2 1182.9V1199.6M513.4 1163V1182M514.3 1190.1V1205.9M515 1195.4V1210.5M515.7 1175.8V1193.4M517.2 1194.5V1209.7M517.9 1201.2V1215.5M519.1 1164.8V1183.6M519.7 1166.1V1184.7M521.1 1175.5V1193.1M521.8 1180.4V1197.4M522.7 1198.2V1212.9M524.3 1184.7V1201.2M525 1175.2V1192.8M526.1 1176.7V1194.2M527.4 1200.3V1214.6M528.2 1195.3V1210.4M528.7 1168.4V1186.8M529.9 1168.5V1186.9M530.9 1201.6V1215.8M532.3 1200.6V1215M532.8 1172.4V1190.3M533.6 1174.4V1192.1M534.6 1184.2V1200.7M535.8 1189.9V1205.7M537 1187V1203.2M537.8 1192.3V1207.8M539.2 1191.6V1207.2M540 1182V1198.8M540.8 1165.9V1184.6M542 1188V1204.1M542.7 1197.5V1212.2M544.3 1197.3V1212.1M545.3 1183.3V1199.9M527 1217.1V1228.9M544.7 1169.5V1187.8M546.2 1194.2V1209.4M546.7 1161.2V1180.4M547.9 1173.1V1191M549.1 1165.4V1184.1M550.3 1173.3V1191.2M551.3 1173.3V1191.2M551.8 1168.4V1186.8M552.4 1186.9V1203.1M553.3 1168.1V1186.5M554 1192.5V1208M555.4 1200.1V1214.6M555.7 1179.8V1196.9M557.4 1185.9V1202.2M558.4 1175.8V1193.4M558.6 1201.2V1215.5M559.8 1187.3V1203.5M560.9 1188.1V1204.2M562.3 1201.8V1215.9M563.3 1176.8V1194.3M564.3 1168.4V1186.8M564.9 1202.2V1216.3M565.8 1181.4V1198.3M567.1 1176.8V1194.3M568.2 1192.1V1207.6M568.7 1202V1216.2M569.7 1194.1V1209.3M569.9 1176.6V1194M570.7 1204.5V1218.3M572.2 1187.6V1203.7M573.2 1204.6V1218.4M574.3 1191V1206.7M574.8 1191V1206.7M576.4 1198.3V1213M577.1 1202.5V1216.6M577.9 1193.8V1209.1M579.3 1182.8V1199.5M580.3 1177.7V1195M581 1195.8V1210.8M581.7 1207.5V1220.9M583 1184.3V1200.8M655.4 936.8V973.2M655.4 961.5V996.5M655.4 972.9V1007.1M657 1031.8V1062.2M657.8 1070.3V1097.7M659 1098.4V1123.6M659.9 1132V1154.2M660.8 1111V1135.2M661.5 1136.4V1158.1M662.4 1120V1143.3M663.8 1141.7V1162.9M664.8 1117.2V1140.7M665 1137.8V1159.5M666.4 1123.9V1146.9M666.8 1126.3V1149M667.9 1131.9V1154.1M669.4 1118.4V1141.8M669.6 1135.7V1157.5M670.5 1118.9V1142.3M671.7 1146.1V1166.9M672.5 1122.2V1145.3M673.5 1116.7V1140.3M674.3 1135.9V1157.7M675.2 1139.3V1160.8M675.9 1114.6V1138.3M677.2 1127.1V1149.7M678.3 1114.7V1138.5M679.1 1134.8V1156.7M679.7 1115.5V1139.2M680.8 1138V1159.6M681.6 1127.8V1150.4M682.6 1132.7V1154.8M683.3 1117.6V1141.1M684.3 1130.5V1152.9M685.5 1146.4V1167.2M686.1 1122.6V1145.7M686.8 1133.4V1155.5M686.8 1097.5V1122.8M688.3 1076.6V1103.6M688.7 1077.7V1104.6M689.7 1070.2V1097.7M691.2 1049.9V1078.9M692.1 1045.9V1075.2M692.6 1041.7V1071.3M693 1001.3V1033.7M694.1 1001.2V1033.6M695.1 990.4V1023.5M695.7 990.7V1023.7M697 1005.7V1037.8M697.7 1008.2V1040.1M698.8 1000.7V1033.1M700.2 1012.6V1044.2M700.9 1000.6V1033M702.1 1027.9V1058.5M703.2 1015V1046.5M703.7 1013.3V1044.9M705 1009.1V1041M700.3 1045.3V1074.7M700.8 1049.6V1078.7M702.3 1059.8V1088.1M703.1 1065.6V1093.4M704.4 1069.4V1097M706 987.8V1021M707.3 953.1V988.6M708.3 967V1001.6M708.8 953.6V989M709.7 923.7V960.9M710.8 922.5V959.8M711.4 899.2V937.8M712.5 891.8V930.8M713.5 891.7V930.7M715 849.4V890.6M716 830.9V873.1M717 818.6V861.4M718 816.5V859.5M717.6 912.9V950.7M718.9 914.5V952.2M720.4 938.9V975.2M721.3 927.6V964.6M721.9 937V973.4M723.2 958.6V993.7M724.2 965.5V1000.2M724.7 956.7V991.9M726 1079.6V1106.4M726.7 1147.5V1168.2M728.3 1144.5V1165.5M728.8 1155.6V1175.5M729.7 1148.3V1168.9M730.6 1166.1V1184.8M731.9 1165.6V1184.3M733.2 1165.4V1184.2M734.4 1173.5V1191.3M735.3 1181.4V1198.3M735.7 1180.8V1197.8M736.8 1175.7V1193.3M737.7 1097.6V1122.9M739 1110.5V1134.6M740 1096.7V1122M741.1 1105.1V1129.8M741.9 1086.8V1112.9M742.9 1090.8V1116.6M744.2 1086.6V1112.8M744.9 1074.6V1101.7M746 1087.6V1113.7M746.9 1070.8V1098.2M748 1074.2V1101.4M747.7 1006.7V1038.8M748.7 1016.2V1047.6M750.2 1037.5V1067.4M751.1 1043.7V1073.2M751.6 948.7V984.4M752.3 945.8V981.7M753.1 958.7V993.8M753.7 963.1V997.9M755 982.5V1016.1M755.8 982.5V1016.1M756.1 998.9V1031.5M755.6 951.7V987.2M756.9 962.5V997.3M758 970.8V1005.2M758.6 976.6V1010.6M759.6 975.9V1009.9M759.8 999.3V1031.8M761.2 980.2V1013.9M761.5 988.5V1021.8M762.8 991.5V1024.5M763.1 1007.6V1039.6M763.9 1006.4V1038.4M765.1 1010.4V1042.2M765.6 1017.6V1048.9M766.8 941.9V978.1M769.4 776.5V821.5M769.4 874V914M770.8 951.7V987.2M771.9 955.4V990.7M772.7 951.3V986.9M774.1 969.1V1003.6M774.7 956.9V992.1M775.4 978.4V1012.2M776.5 967V1001.5M777.8 984.1V1017.6M778.1 979V1012.8M779.4 974V1008.1M780.1 987.3V1020.6M781.4 990.4V1023.5M782.2 988.2V1021.5M782.7 983.7V1017.2M784.3 1004.2V1036.4M782.5 1019.4V1050.6M786.3 1028.5V1059M787.2 1038.5V1068.3M787.9 1047.8V1076.9M789.3 1063.2V1091.2M790.7 1112V1136M792 1123.5V1146.5M794.3 1132.6V1154.7M795.3 1131.8V1154M796 1142.3V1163.5M796.7 1138V1159.6M797.6 1148.6V1169.1M798.7 1136.5V1158.3M799.7 1148.9V1169.5M801 1148.3V1168.9M802.2 1155V1174.9M802.6 1152.2V1172.4M803.6 1147.9V1168.5M804.6 1146.2V1167M805.7 1165.1V1183.9M807 1150.1V1170.5M807.6 1162.6V1181.6M808.8 1152.5V1172.6M811.7 1031.9V1062.2M812.7 1034V1064.2M813.5 1046.8V1076.1M814.1 1061.8V1089.9M814.5 1078.9V1105.7M815.2 1080.4V1107.1M816 1106.4V1130.9M817.5 1129.8V1152.2M818.7 1104.3V1129M820.3 1131.5V1153.8M821.5 1126.2V1149M822.5 1142.3V1163.4M823.7 1140V1161.4M824.8 1151.5V1171.8M826.4 1168.4V1186.8M827.6 1148.8V1169.3M828.9 1162.3V1181.4M830.2 1197V1211.9M831.2 1167.1V1185.7M832.9 1167.9V1186.4M834 1167.6V1186.1M830 1170.9V1189.1M830.7 1174.3V1192M832.2 1169.5V1187.8M832.9 1174.7V1192.4M834 1165.4V1184.2M835.3 1170.7V1188.8M836.5 1176.1V1193.6M837.4 1164.3V1183.2M838.2 1176.9V1194.4M840.1 1168.7V1187.1M840.7 1169.8V1188.1M842 1175V1192.6M843.2 1160.5V1179.8M843.7 1166.5V1185.1M843.9 1166.5V1185.1M845 1185.5V1201.9M846.2 1172V1190M847.7 1174V1191.8M848.5 1180.1V1197.2M849.4 1153.1V1173.1M851 1169.7V1188M851.8 1153.6V1173.7M853 1163.8V1182.7M854.1 1160.5V1179.8M855.4 1163.2V1182.2M856 1180.8V1197.8M857 1159.4V1178.9M858.4 1183.3V1200M859.2 1156.9V1176.6M860.8 1152.2V1172.3M861.6 1175.9V1193.5M863 1176V1193.6M863.6 1179.1V1196.3M864.9 1176.3V1193.8M864 1123.5V1146.5M865 1173.5V1191.4M866.1 1145V1165.9M866.9 1155.1V1175M867.9 1140V1161.4M869.7 1157.7V1177.3M870.8 1138.6V1160.1M871.6 1152.2V1172.4M872.4 1142.7V1163.8M874.1 1162.7V1181.7M874.9 1157.2V1176.8M876.3 1172.1V1190.1M877.2 1131.6V1153.8M878.5 1136.2V1158M879.1 1134.6V1156.5M880.4 1153.9V1173.9M881.5 1148.5V1169M882.3 1159V1178.5M883.7 1140.5V1161.9M885.1 1168V1186.5M886.2 1169.6V1187.9M886.7 1142.7V1163.9M887 1128V1150.6M888.3 1157.6V1177.2M888.9 1138.7V1160.2M890.7 1155.9V1175.7M891.4 1119.2V1142.6M892.5 1137.9V1159.5M893.9 1122.1V1145.2M894.6 1158.6V1178.1M895.5 1140.8V1162.2M896.6 1146.9V1167.6M898 1154.5V1174.5M898.9 1151.9V1172.1M900 1113.1V1137M901 1114V1137.8M902.4 1154.9V1174.8M903.5 1142.6V1163.8M904.3 1132.9V1155M905.8 1113.2V1137.1M907 1128.8V1151.3M907.9 1146.1V1166.9M929.2 1153V1173.1M929.8 1150.5V1170.9M931 1171.4V1189.5M932.7 1183.3V1199.9M933.7 1152.7V1172.9M934.8 1175.6V1193.2M935.6 1183.9V1200.5M936.8 1152.2V1172.4M937.6 1152.5V1172.6M939 1170.2V1188.4M940.3 1148V1168.6M940.8 1182.5V1199.3M942.1 1156.9V1176.6M943.7 1151.3V1171.6M944.7 1179.5V1196.6M945.6 1168.9V1187.3M946.3 1168.7V1187.1M947.9 1174.6V1192.3M948.9 1150.8V1171.1M949.8 1170.1V1188.3M949.7 1131.6V1153.8M950.9 1163.2V1182.2M952.2 1142.5V1163.7M953.6 1152.6V1172.7M954.1 1151.6V1171.8M955.7 1142.1V1163.3M956.4 1151.5V1171.7M957.9 1154V1174M958.4 1151.1V1171.4M959.6 1145.7V1166.6M961 1124.4V1147.3M961.9 1137.7V1159.3M963 1160.9V1180.1M964 1151.7V1171.9M965 1134.1V1156.1M966.2 1146.5V1167.3M967.1 1157V1176.7M968.4 1137.7V1159.4M969.2 1159.7V1179.1M970.8 1164.1V1183M971.4 1123.6V1146.6M971.7 1113.2V1137.1M973 1145.8V1166.7M973.6 1133.5V1155.5M975 1118.9V1142.3M975.8 1150.2V1170.6M977.2 1139.6V1161.1M977.8 1120.7V1143.9M979 1111V1135.1M980.4 1137.9V1159.5M981.7 1136.6V1158.3M982.8 1131.9V1154.1M983.5 1122.1V1145.2M984.6 1154.8V1174.7M985.7 1107.3V1131.7M986.6 1116.8V1140.4M987.9 1132.1V1154.2M988.9 1152.8V1172.9M990.2 1110.1V1134.3M989.6 1134.7V1156.6M991.3 1134.5V1156.5M992.4 1117.7V1141.3M993.6 1142.6V1163.7M994.9 1120.6V1143.9M995.7 1147.2V1167.9M997.2 1126.8V1149.4M998.6 1150.5V1170.8M999.9 1143.5V1164.6M999.6 1120V1143.3M1000.6 1111V1135.1M1001.5 1109.6V1133.8M1002.3 1115.8V1139.5M1003 1112V1136M1004.1 1106.3V1130.8M1004.4 1087.1V1113.3M1005.4 1087V1113.1M1006 1105.4V1130M1007 1108.8V1133.1M1007.8 1113.7V1137.6M1008.7 1100.6V1125.6M1009.5 1094.5V1120M1010 1087.6V1113.7M1010.5 1102.4V1127.2M1011.7 1082.8V1109.2M1012.4 1101.2V1126.2M1013.4 1113.1V1137M1014.1 1071.5V1098.9M1014.9 1079.6V1106.3M1015.5 1067.6V1095.3M1016.4 1076.2V1103.2M1017 1072.2V1099.5M1017.9 1075.4V1102.4M1019 1074.4V1101.6M1019.4 1067.2V1094.9M1020.4 1062.2V1090.3M1021.8 1019.3V1050.5M1023.2 1001.8V1034.1M1023.7 1005V1037.1M1025 991.1V1024.1M1026.1 975V1009M1027.1 971.6V1005.9M1027.8 967.2V1001.8M1029 961.7V996.7M1030 975.9V1009.9M1030 883.9V923.3M1030.9 875.9V915.8M1031.9 858.4V899.2M1032.7 857.7V898.5M1034.1 870V910.2M1034.8 864.4V904.9M1036.2 876.1V915.9M1036.9 885.5V924.8M1037.7 897.9V936.5M1034 802.2V845.8M1038 978.1V1011.9M1038.5 995.6V1028.4M1039.7 1033.9V1064.1M1040.9 1077.5V1104.4M1042.2 1110.4V1134.6M1043.2 1119V1142.4M1043.9 1139.1V1160.6M1044.7 1154.1V1174.1M1046 1170.2V1188.4M1047 1166.4V1185M1047.7 1105.9V1130.4M1048.9 1109.4V1133.7M1050 1104.8V1129.4M1050.9 1095.4V1120.9M1051.9 1098.9V1124.1M1053.3 1096.1V1121.5M1053.9 1090V1115.9M1055 1058.1V1086.5M1055.7 1063.5V1091.5M1057 1048.9V1078M1058.2 967.7V1002.2M1058.9 980.5V1014.2M1059.7 975.7V1009.7M1061.2 997.4V1030M1062.3 989.8V1023M1063.1 989.1V1022.3M1064.1 988.5V1021.8M1065 1000.3V1032.8M1066 1007.6V1039.6M1067.9 940.6V976.8M1069.1 938.8V975.1M1070.1 916.6V954.2M1071.2 902.2V940.6M1072 891.2V930.2M1073.3 783.7V828.3M1073.3 802.2V845.8M1076 861.7V902.3M1077 941.9V978.1M1078.5 957.4V992.6M1079.7 963.6V998.4M1080.7 1025.6V1056.4M1082.3 1056.3V1084.8M1082.8 1079.2V1106M1084 1085.5V1111.7M1085.1 1090.5V1116.3M1086.3 1103.2V1128M1087.2 1111.4V1135.5M1088.1 1111.6V1135.7M1089 1108.8V1133.1M1086 1031.3V1061.7M1087.1 1033V1063.2M1087.9 1029.4V1059.9M1088.5 1038.3V1068.1M1089.8 1053.5V1082.2M1090.3 1063.7V1091.6M1091 1050.1V1079.1M1092.1 1056.2V1084.7M1093.5 1067.8V1095.4M1093.9 1083.9V1110.3M1094 936.8V973.2M1094 957.4V992.6M1094 955.4V990.7M1095 935.3V971.8M1096 915V952.7M1097 889.4V928.5M1098 880.5V920.1M1099.2 869.1V909.3M1100 858V898.8M1100 1056.8V1085.2M1102.3 1109V1133.3M1102.7 1113.9V1137.7M1104.1 1110.6V1134.7M1105 1096.1V1121.5M1106.2 1092.1V1117.8M1106.9 1071.2V1098.6M1108 1074.7V1101.9M1108.8 1059.6V1087.8M1109.8 1075.9V1102.9M1111.1 1043.2V1072.6M1111.7 1043V1072.5M1113.3 1034V1064.2M1113.9 1022.7V1053.7M1115 1020.6V1051.7M1116 1027.6V1058.2M1115.9 981.4V1015.1M1117.1 976.8V1010.7M1118 950.5V986.1M1119.1 953.7V989.1M1119.8 938.2V974.5M1121 926.3V963.3M1121.8 852V893.1M1122.8 810.6V853.8M1124.2 795.1V839.1M1124.8 813.8V856.9M1125.8 839.2V881M1127.1 853.3V894.3M1128.2 855.5V896.4M1129 872.8V912.9M1129.7 970.8V1005.2M1131.1 1072.5V1099.8M1132.1 1066.9V1094.6M1132.9 1069.6V1097.2M1134.3 1072.6V1099.9M1134.8 1061.3V1089.4M1136.2 1076.3V1103.3M1136.9 1071.4V1098.8M1138 1058.3V1086.7M1138.8 1062.6V1090.6M1140.1 1066.6V1094.4M1141.3 1036.7V1066.7M1142.2 1052.8V1081.6M1142.7 1065.4V1093.3M1143.8 1043.4V1072.9M1145.1 1063.8V1091.7M1146 1042.8V1072.3M1140 1007.8V1039.7M1140.8 1001.3V1033.7M1141.8 994.1V1027M1143.2 991.6V1024.6M1143.9 975V1009.1M1145 979V1012.9M1145.8 980.6V1014.3M1147.1 995.1V1027.9M1147.7 969.4V1003.9M1149 970.4V1004.8M1149.8 956.1V991.3M1150.8 967.3V1001.8M1151.8 962.6V997.5M1153.1 978.3V1012.1M1154.1 964.2V999M1155 958.1V993.2M1156 820.7V863.4M1157.3 870V910.1M1158 874.1V914M1159 890.3V929.4M1160 902.8V941.2M1160.9 904.2V942.5M1162.3 910.2V948.1M1163.2 925.2V962.3M1164 925.6V962.6M1165 952.9V988.4M1167.1 880.7V920.3M1167.8 871.4V911.5M1168.7 858.6V899.4M1169.8 854V895.1M1171.3 844.5V886.1M1172.1 847.5V888.9M1173 858.6V899.4M1174.3 983V1016.6M1174.7 956.6V991.8M1176.2 963.7V998.5M1176.9 936.2V972.7M1177.7 922.2V959.5M1179.1 911.1V949M1179.8 908.2V946.3M1181.1 922.3V959.5M1182.3 931.3V968.1M1183 979.7V1013.5M1181 1014.2V1045.8M1182.5 1081.7V1108.3" stroke="#008000" stroke-width="4.5" fill="none"/><path d="M130 1103h0M131.6 1096.8h0M132.5 1106.9h0M134 1118.3h0M133.2 1135.2h0M132.2 1149.3h0M135.9 1072.4h0M136.7 1039.8h0M137.5 986.3h0M139.1 954.2h0M140.4 940.6h0M140.7 926.2h0M141.8 907.5h0M142.8 959.8h0M143.8 994.6h0M144.6 1084.6h0M146 1146.6h0M148.3 1149.4h0M150 1149.8h0M151.7 1148.6h0M153.3 1159.2h0M149 1189h0M150.4 1193h0M154 1116h0M156.7 1159h0M156.6 1078.3h0M157.7 1078.7h0M159.2 1075h0M160.3 1082.9h0M162 1073.2h0M163.4 1077h0M164.2 1081.8h0M165.7 1091.1h0M167.2 1088.7h0M168 1082h0M169.1 1090.3h0M158.7 1045h0M163 1118h0M165.7 1046.2h0M167.2 1049.8h0M167.9 1054h0M169 1066.5h0M170.6 1064.4h0M171.7 1063.8h0M172.9 1071.9h0M172 1043.5h0M173.3 1035.1h0M174.3 1020.3h0M175.7 1014h0M177 926h0M179.5 875h0M180.8 961h0M181.8 975h0M183.3 997h0M185.3 1047h0M185.6 1062h0M187 1095h0M187.5 1113h0M189.6 1159h0M189.2 1181.7h0M189.8 1180.4h0M191 1175.1h0M192 1162.3h0M192.7 1183h0M194.2 1176.4h0M195.3 1191.6h0M195.8 1171h0M197 1190.6h0M196.8 1134.5h0M198 1134.7h0M199.2 1155.3h0M199.8 1149.7h0M200.8 1141.3h0M201.7 1163.2h0M203 1160.3h0M203.9 1163.9h0M205.1 1159.2h0M205.9 1156.6h0M206.8 1171.1h0M208.1 1156.6h0M209.1 1142.4h0M208.9 1141.9h0M210.3 1135.8h0M211 1161.8h0M212.2 1157.7h0M212.8 1143.5h0M214.2 1145.9h0M215.2 1147.8h0M216.2 1154.9h0M217.3 1167.6h0M217.9 1168.1h0M218.6 1165.2h0M219.6 1155.6h0M220.9 1162.7h0M221.9 1146.2h0M222.2 1113.5h0M223.2 1112.2h0M223.6 1121.2h0M224.8 1112.8h0M225.6 1106.9h0M227.1 1122.6h0M228.1 1113.5h0M229.2 1120.8h0M229.8 1117.3h0M231.1 1123.7h0M231.8 1111.7h0M232.9 1105.7h0M233.9 1125.3h0M235.1 1109.1h0M236.2 1108h0M237.2 1109.4h0M236.7 1082h0M238 1083.4h0M239.3 1100.3h0M239.8 1096.6h0M241.2 1093h0M241.8 1103.2h0M243.4 1081.6h0M243.9 1089.8h0M244.8 1093.3h0M235.8 1033.6h0M237 1043.9h0M237.5 1061.5h0M238.9 1048.4h0M240 1055.6h0M241.2 1054.5h0M242.5 1067.5h0M243.9 1064.4h0M245.2 1079.1h0M246.5 1072.2h0M247.9 1086.4h0M248.8 1082.2h0M249.8 1077.5h0M251.5 1092.3h0M252.1 1103.3h0M253.9 1085.4h0M255 1093.7h0M241 1029h0M254.8 1026h0M256 995h0M257.5 966h0M259 835.1h0M260 879.9h0M260.9 863.3h0M261.6 857h0M262.3 882.2h0M262.5 887.4h0M263.6 898.8h0M263 784h0M265 920h0M265.8 1006h0M266.8 1013.2h0M267.6 1031.7h0M268.5 1044h0M269.4 1036.9h0M270.9 1015.6h0M271.3 1044.2h0M272.4 1052h0M273.2 1029h0M274.6 1027.1h0M275.5 1051.7h0M275.8 1037h0M277.3 1018.7h0M278.1 1048.1h0M278.9 1040.9h0M279.3 1057.2h0M280.2 1050h0M281.6 1030h0M282.4 1034.6h0M283.4 1018.9h0M284.4 1034.4h0M285.2 1038.7h0M268.6 1082h0M269 1095h0M283.9 951.8h0M285.1 955.7h0M286.3 964.8h0M288 982.6h0M288.9 995.6h0M286.2 932.8h0M287.9 906.4h0M288.7 899h0M290.8 901.2h0M292.2 909.8h0M293.3 904.5h0M294.5 919.8h0M295.5 917.4h0M297.1 932.6h0M297.8 920.3h0M299 900.5h0M298.1 865.8h0M298.9 842.7h0M300.3 828.9h0M300.7 824.7h0M302.3 811.1h0M303.2 811.9h0M304.1 786h0M305 763h0M306.6 869h0M307 916h0M307.9 1001.2h0M308.9 1017.3h0M309.9 1030.1h0M310.5 1058.2h0M311.1 1070h0M312.1 1077.2h0M313 1086.8h0M314 1092.8h0M315 1096.7h0M315.8 1119.5h0M316 1123.1h0M317.2 1117.1h0M318.3 1114.7h0M319.7 1128.4h0M320.6 1135h0M321.5 1137h0M322.1 1136.3h0M323.1 1131.3h0M324.4 1138.1h0M325 1125.4h0M326.5 1139.4h0M327.6 1119h0M328 1118.9h0M329.4 1138.3h0M330.3 1139.5h0M331.2 1133.2h0M332.5 1136h0M333.3 1134.4h0M334.1 1139.6h0M335.2 1121h0M336.1 1130h0M337 1134.4h0M338 1129.5h0M339 1129.1h0M340.4 1120.9h0M340.7 1140h0M341.9 1132.1h0M343.1 1129.8h0M343.8 1119.5h0M367 1119h0M368 1060h0M370 1075h0M370.3 1022h0M371.5 1005h0M372.3 978.4h0M373.2 981.1h0M374.2 971.9h0M375.1 950.3h0M376.2 931.6h0M376.8 912.2h0M378.2 950.1h0M378.8 975.8h0M380.1 966h0M381 988h0M382 981.1h0M381.7 998.6h0M383 1007.5h0M383.8 1022.3h0M384.4 1033.3h0M385.5 1039.4h0M385.7 1047.9h0M386 1078h0M387.3 1156h0M388.1 1172.2h0M388.9 1183.1h0M390 1188h0M391.2 1187.1h0M391.8 1199.8h0M393.3 1197h0M394.3 1196.2h0M394.8 1201.2h0M395.9 1217.2h0M396.9 1208.9h0M397.7 1208h0M398.8 1218.5h0M399.9 1215.9h0M401 1198.5h0M401.9 1195.3h0M403.2 1195.9h0M403.8 1192.5h0M405.2 1189.5h0M405.8 1188.9h0M406.8 1176.1h0M407.9 1173h0M409 1157h0M410.7 1138h0M412 1069h0M412.5 1078h0M410.9 1107.6h0M411.9 1117.6h0M413.3 1116h0M414.3 1117.5h0M415.4 1127.1h0M416.1 1129.2h0M416.8 1129.4h0M417.3 1129.5h0M418.2 1136.2h0M419 1131.5h0M419.7 1139.1h0M421.1 1149.2h0M421.6 1158h0M422.9 1140.9h0M423.8 1149h0M425.3 1163.2h0M425.9 1157h0M426.8 1161.5h0M427.9 1181.3h0M428.2 1187.9h0M429.3 1187.3h0M429.7 1169.7h0M430.7 1176.7h0M432 1194.3h0M433.1 1183.2h0M433.8 1200.5h0M435.2 1181.9h0M435.6 1201.8h0M436.8 1198.4h0M437.7 1193.3h0M438.9 1201h0M439.8 1178h0M436 1140h0M439.8 1188.4h0M441.4 1183.3h0M442.2 1171.4h0M443 1165.1h0M444.6 1164.1h0M445.3 1174.9h0M446 1178.2h0M447.7 1172.2h0M448.1 1185.6h0M449.6 1182h0M450.2 1194.7h0M452.5 1100h0M453 1120h0M453.5 1132h0M450.2 1156.3h0M451.3 1168.9h0M452.5 1170.7h0M453.7 1183.3h0M454.5 1153h0M455.8 1152.6h0M456.4 1157.5h0M457.6 1180.8h0M458.3 1163.7h0M459.9 1178.3h0M460.3 1178.6h0M461.8 1168.9h0M462.3 1178.3h0M463.5 1159.8h0M464.3 1169.9h0M465.3 1169.6h0M466.7 1176h0M467.6 1185.3h0M468.3 1168.8h0M470 1188.4h0M471 1185.2h0M471.7 1186.4h0M472.7 1162.7h0M473.5 1162.4h0M475 1170.8h0M475.6 1179h0M476.4 1185.4h0M476.9 1173.3h0M478 1155.9h0M478.5 1173.7h0M480 1159.8h0M480.7 1152.4h0M482.1 1164.9h0M483.1 1161.2h0M483.8 1168.7h0M485.2 1183.7h0M485.9 1177.4h0M485.9 1187.7h0M487.2 1176.3h0M487.9 1165.8h0M489.3 1186h0M489.8 1158.9h0M490.8 1192.5h0M491.6 1186.9h0M493 1177.3h0M494 1172h0M495 1160.1h0M496.3 1160.7h0M496.7 1182.6h0M498.1 1187.8h0M499.2 1192.7h0M499.6 1158h0M500.8 1187.3h0M501.7 1178.1h0M503.2 1164h0M504 1192.5h0M505.2 1173.6h0M506 1169.2h0M507.4 1188.6h0M508.1 1170.6h0M508.2 1189.5h0M509.2 1185.2h0M510.3 1196.8h0M511 1192.4h0M512.2 1191.3h0M513.4 1172.5h0M514.3 1198h0M515 1203h0M515.7 1184.6h0M517.2 1202.1h0M517.9 1208.3h0M519.1 1174.2h0M519.7 1175.4h0M521.1 1184.3h0M521.8 1188.9h0M522.7 1205.5h0M524.3 1193h0M525 1184h0M526.1 1185.5h0M527.4 1207.4h0M528.2 1202.8h0M528.7 1177.6h0M529.9 1177.7h0M530.9 1208.7h0M532.3 1207.8h0M532.8 1181.3h0M533.6 1183.3h0M534.6 1192.5h0M535.8 1197.8h0M537 1195.1h0M537.8 1200.1h0M539.2 1199.4h0M540 1190.4h0M540.8 1175.2h0M542 1196h0M542.7 1204.9h0M544.3 1204.7h0M545.3 1191.6h0M527 1223h0M544.7 1178.7h0M546.2 1201.8h0M546.7 1170.8h0M547.9 1182h0M549.1 1174.7h0M550.3 1182.2h0M551.3 1182.3h0M551.8 1177.6h0M552.4 1195h0M553.3 1177.3h0M554 1200.3h0M555.4 1207.3h0M555.7 1188.4h0M557.4 1194h0M558.4 1184.6h0M558.6 1208.3h0M559.8 1195.4h0M560.9 1196.1h0M562.3 1208.9h0M563.3 1185.6h0M564.3 1177.6h0M564.9 1209.3h0M565.8 1189.8h0M567.1 1185.5h0M568.2 1199.9h0M568.7 1209.1h0M569.7 1201.7h0M569.9 1185.3h0M570.7 1211.4h0M572.2 1195.7h0M573.2 1211.5h0M574.3 1198.8h0M574.8 1198.9h0M576.4 1205.7h0M577.1 1209.5h0M577.9 1201.5h0M579.3 1191.1h0M580.3 1186.4h0M581 1203.3h0M581.7 1214.2h0M583 1192.6h0M655.4 955h0M655.4 979h0M655.4 990h0M657 1047h0M657.8 1084h0M659 1111h0M659.9 1143.1h0M660.8 1123.1h0M661.5 1147.2h0M662.4 1131.7h0M663.8 1152.3h0M664.8 1128.9h0M665 1148.6h0M666.4 1135.4h0M666.8 1137.7h0M667.9 1143h0M669.4 1130.1h0M669.6 1146.6h0M670.5 1130.6h0M671.7 1156.5h0M672.5 1133.7h0M673.5 1128.5h0M674.3 1146.8h0M675.2 1150.1h0M675.9 1126.5h0M677.2 1138.4h0M678.3 1126.6h0M679.1 1145.8h0M679.7 1127.4h0M680.8 1148.8h0M681.6 1139.1h0M682.6 1143.7h0M683.3 1129.3h0M684.3 1141.7h0M685.5 1156.8h0M686.1 1134.2h0M686.8 1144.4h0M686.8 1110.1h0M688.3 1090.1h0M688.7 1091.1h0M689.7 1084h0M691.2 1064.4h0M692.1 1060.6h0M692.6 1056.5h0M693 1017.5h0M694.1 1017.4h0M695.1 1007h0M695.7 1007.2h0M697 1021.7h0M697.7 1024.2h0M698.8 1016.9h0M700.2 1028.4h0M700.9 1016.8h0M702.1 1043.2h0M703.2 1030.7h0M703.7 1029.1h0M705 1025h0M700.3 1060h0M700.8 1064.1h0M702.3 1074h0M703.1 1079.5h0M704.4 1083.2h0M706 1004.4h0M707.3 970.9h0M708.3 984.3h0M708.8 971.3h0M709.7 942.3h0M710.8 941.1h0M711.4 918.5h0M712.5 911.3h0M713.5 911.2h0M715 870h0M716 852h0M717 840h0M718 838h0M717.6 931.8h0M718.9 933.4h0M720.4 957.1h0M721.3 946.1h0M721.9 955.2h0M723.2 976.2h0M724.2 982.8h0M724.7 974.3h0M726 1093h0M726.7 1157.8h0M728.3 1155h0M728.8 1165.5h0M729.7 1158.6h0M730.6 1175.5h0M731.9 1174.9h0M733.2 1174.8h0M734.4 1182.4h0M735.3 1189.9h0M735.7 1189.3h0M736.8 1184.5h0M737.7 1110.2h0M739 1122.5h0M740 1109.4h0M741.1 1117.4h0M741.9 1099.8h0M742.9 1103.7h0M744.2 1099.7h0M744.9 1088.2h0M746 1100.7h0M746.9 1084.5h0M748 1087.8h0M747.7 1022.7h0M748.7 1031.9h0M750.2 1052.4h0M751.1 1058.5h0M751.6 966.5h0M752.3 963.7h0M753.1 976.2h0M753.7 980.5h0M755 999.3h0M755.8 999.3h0M756.1 1015.2h0M755.6 969.5h0M756.9 979.9h0M758 988h0M758.6 993.6h0M759.6 992.9h0M759.8 1015.5h0M761.2 997h0M761.5 1005.1h0M762.8 1008h0M763.1 1023.6h0M763.9 1022.4h0M765.1 1026.3h0M765.6 1033.3h0M766.8 960h0M769.4 799h0M769.4 894h0M770.8 969.5h0M771.9 973.1h0M772.7 969.1h0M774.1 986.3h0M774.7 974.5h0M775.4 995.3h0M776.5 984.2h0M777.8 1000.8h0M778.1 995.9h0M779.4 991.1h0M780.1 1003.9h0M781.4 1007h0M782.2 1004.8h0M782.7 1000.5h0M784.3 1020.3h0M782.5 1035h0M786.3 1043.8h0M787.2 1053.4h0M787.9 1062.3h0M789.3 1077.2h0M790.7 1124h0M792 1135h0M794.3 1143.6h0M795.3 1142.9h0M796 1152.9h0M796.7 1148.8h0M797.6 1158.9h0M798.7 1147.4h0M799.7 1159.2h0M801 1158.6h0M802.2 1164.9h0M802.6 1162.3h0M803.6 1158.2h0M804.6 1156.6h0M805.7 1174.5h0M807 1160.3h0M807.6 1172.1h0M808.8 1162.5h0M811.7 1047.1h0M812.7 1049.1h0M813.5 1061.4h0M814.1 1075.9h0M814.5 1092.3h0M815.2 1093.8h0M816 1118.7h0M817.5 1141h0M818.7 1116.6h0M820.3 1142.6h0M821.5 1137.6h0M822.5 1152.9h0M823.7 1150.7h0M824.8 1161.6h0M826.4 1177.6h0M827.6 1159.1h0M828.9 1171.8h0M830.2 1204.5h0M831.2 1176.4h0M832.9 1177.1h0M834 1176.8h0M830 1180h0M830.7 1183.2h0M832.2 1178.6h0M832.9 1183.6h0M834 1174.8h0M835.3 1179.7h0M836.5 1184.8h0M837.4 1173.7h0M838.2 1185.7h0M840.1 1177.9h0M840.7 1178.9h0M842 1183.8h0M843.2 1170.1h0M843.7 1175.8h0M843.9 1175.8h0M845 1193.7h0M846.2 1181h0M847.7 1182.9h0M848.5 1188.7h0M849.4 1163.1h0M851 1178.8h0M851.8 1163.7h0M853 1173.3h0M854.1 1170.2h0M855.4 1172.7h0M856 1189.3h0M857 1169.1h0M858.4 1191.7h0M859.2 1166.8h0M860.8 1162.2h0M861.6 1184.7h0M863 1184.8h0M863.6 1187.7h0M864.9 1185.1h0M864 1135h0M865 1182.4h0M866.1 1155.4h0M866.9 1165.1h0M867.9 1150.7h0M869.7 1167.5h0M870.8 1149.3h0M871.6 1162.3h0M872.4 1153.3h0M874.1 1172.2h0M874.9 1167h0M876.3 1181.1h0M877.2 1142.7h0M878.5 1147.1h0M879.1 1145.6h0M880.4 1163.9h0M881.5 1158.7h0M882.3 1168.8h0M883.7 1151.2h0M885.1 1177.2h0M886.2 1178.8h0M886.7 1153.3h0M887 1139.3h0M888.3 1167.4h0M888.9 1149.4h0M890.7 1165.8h0M891.4 1130.9h0M892.5 1148.7h0M893.9 1133.7h0M894.6 1168.4h0M895.5 1151.5h0M896.6 1157.2h0M898 1164.5h0M898.9 1162h0M900 1125h0M901 1125.9h0M902.4 1164.9h0M903.5 1153.2h0M904.3 1144h0M905.8 1125.2h0M907 1140h0M907.9 1156.5h0M929.2 1163.1h0M929.8 1160.7h0M931 1180.4h0M932.7 1191.6h0M933.7 1162.8h0M934.8 1184.4h0M935.6 1192.2h0M936.8 1162.3h0M937.6 1162.6h0M939 1179.3h0M940.3 1158.3h0M940.8 1190.9h0M942.1 1166.7h0M943.7 1161.4h0M944.7 1188h0M945.6 1178.1h0M946.3 1177.9h0M947.9 1183.4h0M948.9 1161h0M949.8 1179.2h0M949.7 1142.7h0M950.9 1172.7h0M952.2 1153.1h0M953.6 1162.7h0M954.1 1161.7h0M955.7 1152.7h0M956.4 1161.6h0M957.9 1164h0M958.4 1161.2h0M959.6 1156.1h0M961 1135.9h0M961.9 1148.5h0M963 1170.5h0M964 1161.8h0M965 1145.1h0M966.2 1156.9h0M967.1 1166.9h0M968.4 1148.5h0M969.2 1169.4h0M970.8 1173.6h0M971.4 1135.1h0M971.7 1125.2h0M973 1156.2h0M973.6 1144.5h0M975 1130.6h0M975.8 1160.4h0M977.2 1150.3h0M977.8 1132.3h0M979 1123h0M980.4 1148.7h0M981.7 1147.4h0M982.8 1143h0M983.5 1133.6h0M984.6 1164.7h0M985.7 1119.5h0M986.6 1128.6h0M987.9 1143.1h0M988.9 1162.9h0M990.2 1122.2h0M989.6 1145.6h0M991.3 1145.5h0M992.4 1129.5h0M993.6 1153.1h0M994.9 1132.2h0M995.7 1157.6h0M997.2 1138.1h0M998.6 1160.6h0M999.9 1154.1h0M999.6 1131.7h0M1000.6 1123.1h0M1001.5 1121.7h0M1002.3 1127.6h0M1003 1124h0M1004.1 1118.6h0M1004.4 1100.2h0M1005.4 1100h0M1006 1117.7h0M1007 1121h0M1007.8 1125.7h0M1008.7 1113.1h0M1009.5 1107.2h0M1010 1100.7h0M1010.5 1114.8h0M1011.7 1096h0M1012.4 1113.7h0M1013.4 1125h0M1014.1 1085.2h0M1014.9 1093h0M1015.5 1081.4h0M1016.4 1089.7h0M1017 1085.9h0M1017.9 1088.9h0M1019 1088h0M1019.4 1081.1h0M1020.4 1076.3h0M1021.8 1034.9h0M1023.2 1017.9h0M1023.7 1021h0M1025 1007.6h0M1026.1 992h0M1027.1 988.7h0M1027.8 984.5h0M1029 979.2h0M1030 992.9h0M1030 903.6h0M1030.9 895.8h0M1031.9 878.8h0M1032.7 878.1h0M1034.1 890.1h0M1034.8 884.6h0M1036.2 896h0M1036.9 905.1h0M1037.7 917.2h0M1034 824h0M1038 995h0M1038.5 1012h0M1039.7 1049h0M1040.9 1091h0M1042.2 1122.5h0M1043.2 1130.7h0M1043.9 1149.9h0M1044.7 1164.1h0M1046 1179.3h0M1047 1175.7h0M1047.7 1118.1h0M1048.9 1121.5h0M1050 1117.1h0M1050.9 1108.2h0M1051.9 1111.5h0M1053.3 1108.8h0M1053.9 1103h0M1055 1072.3h0M1055.7 1077.5h0M1057 1063.5h0M1058.2 985h0M1058.9 997.3h0M1059.7 992.7h0M1061.2 1013.7h0M1062.3 1006.4h0M1063.1 1005.7h0M1064.1 1005.2h0M1065 1016.6h0M1066 1023.6h0M1067.9 958.7h0M1069.1 956.9h0M1070.1 935.4h0M1071.2 921.4h0M1072 910.7h0M1073.3 806h0M1073.3 824h0M1076 882h0M1077 960h0M1078.5 975h0M1079.7 981h0M1080.7 1041h0M1082.3 1070.5h0M1082.8 1092.6h0M1084 1098.6h0M1085.1 1103.4h0M1086.3 1115.6h0M1087.2 1123.5h0M1088.1 1123.7h0M1089 1120.9h0M1086 1046.5h0M1087.1 1048.1h0M1087.9 1044.7h0M1088.5 1053.2h0M1089.8 1067.9h0M1090.3 1077.7h0M1091 1064.6h0M1092.1 1070.4h0M1093.5 1081.6h0M1093.9 1097.1h0M1094 955h0M1094 975h0M1094 973.1h0M1095 953.6h0M1096 933.9h0M1097 908.9h0M1098 900.3h0M1099.2 889.2h0M1100 878.4h0M1100 1071h0M1102.3 1121.2h0M1102.7 1125.8h0M1104.1 1122.6h0M1105 1108.8h0M1106.2 1104.9h0M1106.9 1084.9h0M1108 1088.3h0M1108.8 1073.7h0M1109.8 1089.4h0M1111.1 1057.9h0M1111.7 1057.8h0M1113.3 1049.1h0M1113.9 1038.2h0M1115 1036.1h0M1116 1042.9h0M1115.9 998.3h0M1117.1 993.8h0M1118 968.3h0M1119.1 971.4h0M1119.8 956.3h0M1121 944.8h0M1121.8 872.6h0M1122.8 832.2h0M1124.2 817.1h0M1124.8 835.3h0M1125.8 860.1h0M1127.1 873.8h0M1128.2 876h0M1129 892.8h0M1129.7 988h0M1131.1 1086.2h0M1132.1 1080.8h0M1132.9 1083.4h0M1134.3 1086.3h0M1134.8 1075.3h0M1136.2 1089.8h0M1136.9 1085.1h0M1138 1072.5h0M1138.8 1076.6h0M1140.1 1080.5h0M1141.3 1051.7h0M1142.2 1067.2h0M1142.7 1079.4h0M1143.8 1058.1h0M1145.1 1077.8h0M1146 1057.5h0M1140 1023.7h0M1140.8 1017.5h0M1141.8 1010.5h0M1143.2 1008.1h0M1143.9 992.1h0M1145 995.9h0M1145.8 997.5h0M1147.1 1011.5h0M1147.7 986.7h0M1149 987.6h0M1149.8 973.7h0M1150.8 984.5h0M1151.8 980.1h0M1153.1 995.2h0M1154.1 981.6h0M1155 975.7h0M1156 842.1h0M1157.3 890.1h0M1158 894.1h0M1159 909.8h0M1160 922h0M1160.9 923.3h0M1162.3 929.2h0M1163.2 943.8h0M1164 944.1h0M1165 970.6h0M1167.1 900.5h0M1167.8 891.5h0M1168.7 879h0M1169.8 874.6h0M1171.3 865.3h0M1172.1 868.2h0M1173 879h0M1174.3 999.8h0M1174.7 974.2h0M1176.2 981.1h0M1176.9 954.5h0M1177.7 940.8h0M1179.1 930.1h0M1179.8 927.3h0M1181.1 940.9h0M1182.3 949.7h0M1183 996.6h0M1181 1030h0M1182.5 1095h0" stroke="#000" stroke-width="3.6" stroke-linecap="round" fill="none"/><path d="M104.2 710V1255M103.3 1254.2H599.6M608.3 1254.2H1200M598.3 1261.3L602.1 1246.9M605.4 1261.3L609.4 1246.9M88.3 1190.3H104M88.3 1126.4H104M88.3 1062.5H104M88.3 998.6H104M88.3 934.7H104M88.3 870.8H104M88.3 806.9H104M88.3 743H104M180.3 1254V1270M275.8 1254V1270M371.3 1254V1270M466.8 1254V1270M562.3 1254V1270M645.7 1254V1270M741 1254V1270M836.3 1254V1270M931.7 1254V1270M1027 1254V1270M1122.3 1254V1270" stroke="#000" stroke-width="1.9" fill="none"/><g font-size="25" text-anchor="end"><text x="82.3" y="1198.6">0.5</text><text x="82.3" y="1134.7">1.0</text><text x="82.3" y="1070.8">1.5</text><text x="82.3" y="1006.9">2.0</text><text x="82.3" y="943">2.5</text><text x="82.3" y="879.1">3.0</text><text x="82.3" y="815.2">3.5</text><text x="82.3" y="751.3">4.0</text></g><g font-size="25" text-anchor="middle"><text x="180.3" y="1294.9">1,000</text><text x="275.8" y="1294.9">1,500</text><text x="371.3" y="1294.9">2,000</text><text x="466.8" y="1294.9">2,500</text><text x="562.3" y="1294.9">3,000</text><text x="645.7" y="1294.9">6,000</text><text x="741" y="1294.9">6,500</text><text x="836.3" y="1294.9">7,000</text><text x="931.7" y="1294.9">7,500</text><text x="1027" y="1294.9">8,000</text><text x="1122.3" y="1294.9">8,500</text></g><text x="651.3" y="1337.6" font-size="25" text-anchor="middle">Time (seconds since 2019-8-6T00:00:00)</text><text transform="translate(23.9 984.5) rotate(-90)" font-size="25.8" text-anchor="middle" textLength="388" lengthAdjust="spacingAndGlyphs">Far-UV flux (10<tspan font-size="17.5" dy="-9">−15</tspan><tspan dy="9"> erg s</tspan><tspan font-size="17.5" dy="-9">−1</tspan><tspan dy="9"> cm</tspan><tspan font-size="17.5" dy="-9">−2</tspan><tspan dy="9"> Å</tspan><tspan font-size="17.5" dy="-9">−1</tspan><tspan dy="9">)</tspan></text></svg></body></html>
